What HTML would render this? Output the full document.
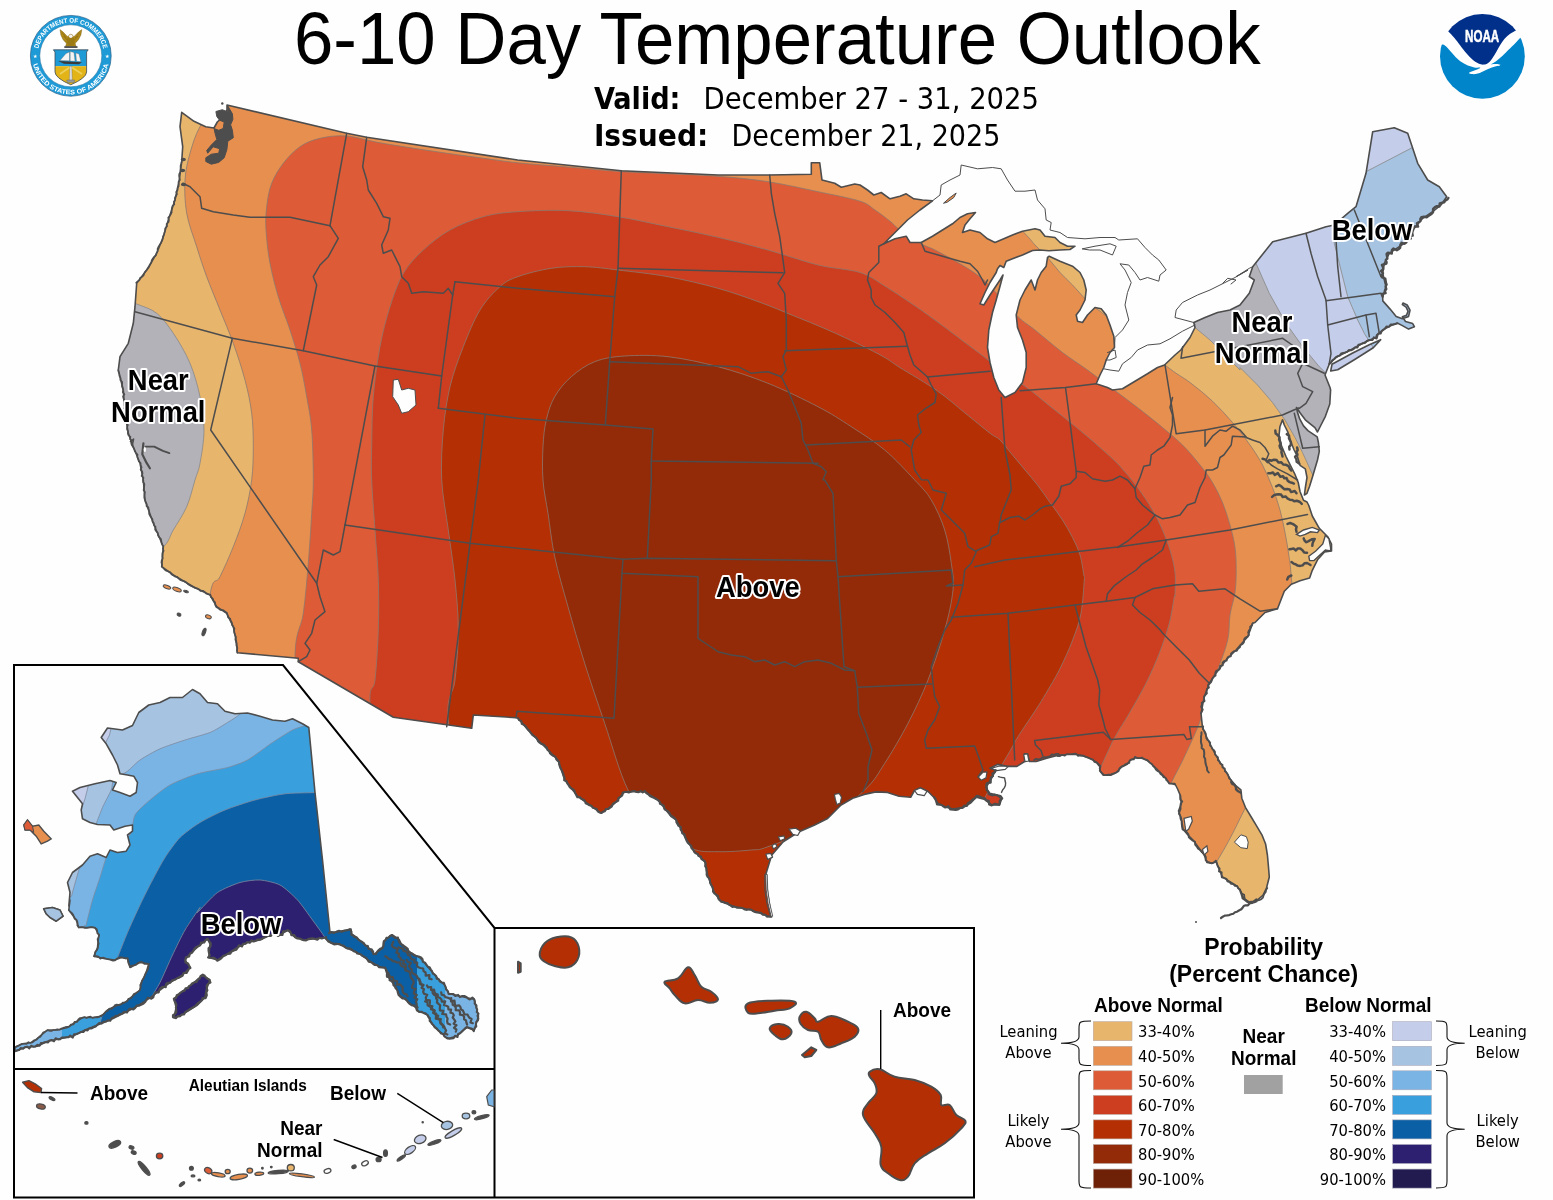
<!DOCTYPE html>
<html><head><meta charset="utf-8"><title>6-10 Day Temperature Outlook</title>
<style>html,body{margin:0;padding:0;background:#fdfefd}svg{display:block}text{font-family:"Liberation Sans",sans-serif}.dv{font-family:"DejaVu Sans Condensed","DejaVu Sans",sans-serif}</style>
</head><body>
<svg width="1553" height="1200" viewBox="0 0 1553 1200">
<rect width="1553" height="1200" fill="#fdfefd"/>
<defs>
<clipPath id="us"><path d="M181.7,112.3 L194.0,121.3 L205.7,126.7 L214.0,128.0 L217.3,122.0 L222.3,117.3 L227.0,110.0 L227.0,105.0 L346.7,133.3 L366.7,137.3 L517.7,160.0 L621.3,170.7 L718.0,175.0 L769.7,175.0 L811.3,174.3 L811.3,162.7 L819.7,162.7 L822.0,180.0 L834.7,183.3 L841.3,187.3 L854.7,184.0 L860.0,185.0 L867.5,190.0 L873.8,195.0 L881.2,192.5 L890.0,198.8 L900.0,196.2 L906.2,193.8 L913.8,198.8 L922.5,200.0 L932.5,200.8 L920.0,210.0 L907.5,220.0 L897.5,230.0 L883.8,243.8 L895.0,238.8 L906.2,236.2 L910.0,242.5 L921.2,242.5 L932.5,236.2 L942.5,230.0 L952.5,223.8 L960.0,217.5 L967.5,213.8 L975.5,212.5 L970.0,218.8 L965.0,225.0 L962.5,232.5 L970.0,230.0 L980.0,232.5 L987.5,238.8 L995.0,242.5 L1003.8,238.8 L1012.5,235.0 L1022.5,231.2 L1035.0,228.8 L1040.0,230.0 L1045.0,236.2 L1055.0,237.5 L1060.0,242.5 L1067.5,246.2 L1075.0,246.2 L1070.0,249.5 L1060.0,250.0 L1048.8,250.8 L1040.0,250.0 L1032.5,250.5 L1022.5,255.0 L1012.5,258.8 L1006.2,261.2 L1003.8,267.5 L1000.0,265.5 L997.5,268.8 L996.2,272.5 L990.0,282.5 L985.0,292.5 L980.0,303.8 L983.8,305.0 L990.0,295.0 L995.0,287.5 L1000.0,280.0 L1003.0,275.0 L1000.0,286.2 L996.2,300.0 L992.5,312.5 L988.8,330.0 L987.5,347.5 L990.0,362.5 L993.8,377.5 L998.8,390.0 L1005.0,397.5 L1015.0,392.5 L1022.5,382.5 L1026.2,367.5 L1026.2,352.5 L1022.5,340.0 L1017.5,327.5 L1016.2,315.0 L1020.0,300.0 L1025.0,290.0 L1031.2,280.0 L1035.0,290.0 L1037.5,280.0 L1041.2,272.5 L1046.2,266.2 L1047.5,257.5 L1049.2,256.2 L1060.0,261.2 L1072.5,266.2 L1080.0,272.5 L1083.8,280.0 L1086.2,290.0 L1085.0,300.0 L1080.0,310.0 L1076.2,315.0 L1077.5,321.2 L1082.5,322.5 L1087.5,315.0 L1095.0,307.5 L1101.2,308.8 L1106.2,315.0 L1110.0,325.0 L1113.8,336.2 L1114.5,347.5 L1110.0,352.5 L1106.2,360.0 L1103.8,367.5 L1100.0,375.0 L1096.2,383.8 L1107.5,387.5 L1112.5,390.0 L1122.5,388.8 L1135.0,381.2 L1147.5,373.8 L1157.5,367.5 L1164.5,365.0 L1175.0,355.0 L1180.8,350.0 L1190.0,337.5 L1195.0,327.5 L1193.8,322.5 L1205.0,317.5 L1217.5,312.5 L1230.0,310.0 L1240.0,305.0 L1249.3,293.3 L1254.3,280.0 L1249.3,276.7 L1252.7,266.7 L1272.7,241.7 L1306.0,233.3 L1326.0,226.7 L1334.3,225.0 L1347.7,213.3 L1356.0,206.7 L1366.0,173.3 L1372.7,131.7 L1394.3,127.7 L1407.7,133.3 L1417.7,163.3 L1427.7,180.0 L1439.3,186.7 L1446.7,196.7 L1441.0,205.0 L1432.7,211.7 L1422.7,218.3 L1414.3,228.3 L1409.3,240.0 L1399.3,246.7 L1389.3,253.3 L1384.3,263.3 L1382.7,273.3 L1386.0,286.7 L1382.7,296.7 L1382.8,300.9 L1390.1,309.1 L1396.2,316.4 L1402.4,318.8 L1408.6,316.4 L1410.0,310.2 L1407.2,305.0 L1403.0,303.0 L1402.4,304.6 L1406.1,307.1 L1408.0,311.2 L1406.5,315.3 L1402.4,316.8 L1405.5,321.5 L1412.7,323.6 L1414.4,326.7 L1408.6,329.1 L1402.4,325.6 L1397.3,323.0 L1391.1,325.6 L1384.9,328.7 L1376.7,334.9 L1376.0,337.3 L1362.7,343.3 L1349.3,350.7 L1336.0,357.3 L1329.3,364.0 L1325.0,375.0 L1330.0,387.5 L1330.6,390.0 L1329.8,404.0 L1325.4,416.3 L1321.0,425.0 L1317.5,432.0 L1314.9,427.6 L1309.6,423.3 L1305.3,419.8 L1300.0,412.8 L1296.5,407.5 L1297.4,411.9 L1299.7,418.9 L1303.5,425.9 L1307.9,430.6 L1313.1,434.1 L1317.2,436.9 L1318.4,442.5 L1319.3,451.3 L1317.5,460.0 L1314.9,468.8 L1312.3,477.5 L1309.6,486.3 L1307.0,493.3 L1304.4,495.0 L1305.3,488.0 L1307.0,477.5 L1305.3,468.8 L1300.0,465.3 L1297.4,456.5 L1293.9,449.5 L1290.4,440.8 L1287.8,432.0 L1284.3,425.0 L1282.5,419.8 L1279.9,426.8 L1279.0,435.5 L1281.6,446.0 L1286.0,456.5 L1290.4,465.3 L1294.8,474.0 L1298.3,482.8 L1300.0,491.5 L1303.5,500.3 L1307.0,502.0 L1308.8,505.5 L1312.3,516.0 L1319.3,528.3 L1328.0,537.0 L1331.5,544.0 L1331.5,551.0 L1324.5,551.9 L1317.5,559.8 L1312.3,570.3 L1309.6,578.1 L1300.0,580.8 L1291.3,584.3 L1284.3,591.3 L1277.5,608.8 L1265.0,612.5 L1255.0,622.5 L1252.7,623.3 L1247.7,636.7 L1236.0,650.0 L1226.0,660.0 L1216.0,673.3 L1209.3,683.3 L1204.3,696.7 L1201.0,713.3 L1202.4,726.7 L1206.0,735.8 L1210.6,745.0 L1215.2,754.2 L1220.7,763.3 L1225.3,770.7 L1230.8,779.8 L1235.4,785.3 L1240.9,789.9 L1241.8,798.2 L1245.4,807.3 L1250.9,816.5 L1256.4,825.7 L1261.9,834.8 L1265.6,844.0 L1267.4,855.0 L1268.4,866.0 L1269.3,877.0 L1266.5,888.0 L1262.9,895.4 L1256.4,900.9 L1250.0,902.7 L1243.6,898.1 L1240.9,891.7 L1237.2,886.2 L1229.9,881.6 L1222.5,877.0 L1218.9,868.8 L1216.1,861.4 L1211.5,863.3 L1206.9,862.4 L1204.2,855.0 L1198.7,847.7 L1193.2,840.3 L1187.7,834.8 L1183.1,829.3 L1182.2,823.8 L1181.3,818.3 L1178.5,811.0 L1181.3,803.7 L1180.3,795.4 L1177.6,789.0 L1174.8,783.5 L1169.3,783.5 L1165.7,778.0 L1161.1,773.4 L1156.5,768.8 L1151.9,764.3 L1147.3,760.6 L1141.8,758.2 L1135.4,757.8 L1129.9,760.6 L1127.2,764.3 L1121.7,767.0 L1116.2,772.5 L1110.7,775.3 L1103.3,775.3 L1099.7,770.7 L1100.6,766.1 L1096.9,762.4 L1090.5,758.8 L1083.2,756.0 L1075.8,754.2 L1066.7,754.5 L1057.5,756.0 L1060.0,754.8 L1045.9,758.6 L1036.2,761.5 L1029.5,761.5 L1027.5,753.8 L1024.6,753.8 L1024.6,761.5 L1016.9,766.4 L1007.2,766.4 L997.6,764.4 L989.9,768.3 L995.7,770.2 L991.8,777.9 L986.0,787.6 L989.9,793.4 L997.6,795.3 L1001.5,799.2 L999.5,805.0 L991.8,805.0 L984.1,799.2 L976.3,797.3 L970.5,803.1 L962.8,807.9 L953.2,808.9 L945.4,806.9 L937.7,803.1 L933.8,797.3 L928.1,791.5 L920.3,787.6 L914.5,790.5 L910.7,797.3 L899.1,796.3 L887.5,792.4 L875.9,791.9 L864.3,794.4 L852.7,798.2 L841.1,805.0 L827.6,818.5 L814.1,825.3 L798.6,832.0 L783.2,841.7 L771.6,855.2 L765.8,874.5 L767.7,893.8 L771.6,917.0 L769.7,916.7 L764.7,915.0 L751.3,910.0 L734.7,906.7 L721.3,901.7 L714.7,893.3 L708.0,876.7 L704.7,861.7 L693.0,850.0 L684.7,836.7 L676.3,820.0 L671.3,816.7 L658.0,800.0 L644.7,791.7 L624.7,791.7 L614.7,803.3 L601.3,813.3 L578.0,796.7 L564.7,780.0 L558.0,760.0 L544.7,746.7 L528.0,730.0 L518.0,718.3 L516.0,717.7 L473.3,715.0 L471.7,728.3 L393.3,717.3 L298.3,661.7 L298.3,658.3 L237.3,652.7 L236.7,643.3 L233.3,626.7 L226.7,613.3 L216.7,606.7 L210.0,595.0 L193.3,586.7 L173.3,575.0 L161.7,566.7 L163.3,546.7 L153.3,523.3 L145.0,500.0 L143.3,480.0 L140.0,463.3 L133.3,446.7 L128.3,433.3 L125.0,413.3 L123.3,390.0 L118.3,370.0 L120.0,356.7 L128.3,343.3 L133.3,323.3 L135.0,306.7 L136.7,283.3 L146.7,270.0 L156.7,253.3 L163.3,236.7 L168.3,220.0 L175.0,200.0 L179.3,180.0 L181.7,161.7 L182.7,146.7 L180.0,126.7Z M1332.0,364.3 L1352.7,353.0 L1369.3,344.7 L1380.7,339.7 L1373.3,347.7 L1354.3,359.7 L1337.7,369.7 L1330.7,371.0Z"/></clipPath>
</defs>
<g clip-path="url(#us)">
<rect x="100" y="80" width="1400" height="860" fill="#E8B56D"/>
<path d="M1172.5,307.5 L1195.0,327.5 L1210.0,340.0 L1225.0,355.0 L1240.0,370.0 L1240.0,367.5 L1257.5,385.0 L1272.5,402.5 L1285.0,420.0 L1295.0,437.5 L1302.5,452.5 L1315.0,480.0 L1400.0,700.0 L1553.0,700.0 L1553.0,60.0 L1150.0,60.0Z" fill="#B3B2B9" stroke="#888" stroke-width="0.8"/>
<path d="M1242.7,233.3 L1256.0,263.3 L1269.3,293.3 L1286.0,323.3 L1302.7,346.7 L1319.3,366.7 L1326.0,373.3 L1346.0,400.0 L1553.0,420.0 L1553.0,60.0 L1200.0,60.0Z" fill="#C4CDE9" stroke="#888" stroke-width="0.8"/>
<path d="M1331.0,213.3 L1334.3,243.3 L1339.3,263.3 L1347.7,296.7 L1357.7,320.0 L1364.3,333.3 L1372.7,346.7 L1389.3,373.3 L1553.0,400.0 L1553.0,60.0 L1411.0,148.3 L1366.0,171.7Z" fill="#A6C3E1" stroke="#888" stroke-width="0.8"/>
<path d="M110.0,293.3 C114.5,258.4 128.9,300.7 136.7,304.0 C144.5,307.3 150.6,308.4 156.7,313.3 C162.8,318.2 167.8,325.0 173.3,333.3 C178.9,341.6 185.6,352.7 190.0,363.3 C194.4,373.9 197.7,385.6 200.0,396.7 C202.3,407.8 204.0,418.9 204.0,430.0 C204.0,441.1 201.5,455.0 200.0,463.3 C198.5,471.6 197.2,472.8 195.0,480.0 C192.8,487.2 190.3,498.4 186.7,506.7 C183.1,515.0 177.2,523.3 173.3,530.0 C169.4,536.7 168.9,542.2 163.3,546.7 C157.8,551.2 148.9,562.3 140.0,556.7 C131.1,551.1 115.0,557.2 110.0,513.3 C105.0,469.4 105.5,328.2 110.0,293.3Z" fill="#B3B2B9" stroke="#888" stroke-width="0.8"/>
<path d="M200.0,126.7 C195.0,135.6 192.5,144.4 190.0,153.3 C187.5,162.2 185.6,170.0 185.0,180.0 C184.4,190.0 184.8,202.2 186.7,213.3 C188.6,224.4 193.4,236.1 196.7,246.7 C200.0,257.3 202.8,266.1 206.7,276.7 C210.6,287.2 215.6,298.9 220.0,310.0 C224.4,321.1 229.1,331.6 233.3,343.3 C237.5,355.0 241.9,368.3 245.0,380.0 C248.1,391.7 250.3,402.2 251.7,413.3 C253.1,424.4 253.3,435.6 253.3,446.7 C253.3,457.8 253.1,468.6 251.7,479.7 C250.3,490.8 248.1,502.1 245.0,513.3 C241.9,524.5 237.5,536.1 233.3,546.7 C229.1,557.3 223.9,568.7 220.0,576.7 C216.1,584.8 213.3,574.5 210.0,595.0 C206.7,615.5 185.0,649.2 200.0,700.0 C215.0,750.8 250.0,840.0 300.0,900.0 C350.0,960.0 416.7,1026.7 500.0,1060.0 C583.3,1093.3 708.3,1103.3 800.0,1100.0 C891.7,1096.7 986.7,1070.0 1050.0,1040.0 C1113.3,1010.0 1152.0,950.0 1180.0,920.0 C1208.0,890.0 1208.9,874.5 1217.7,860.0 C1226.5,845.5 1228.3,841.6 1232.7,833.3 C1237.1,825.0 1236.4,825.5 1244.3,810.0 C1252.2,794.5 1271.4,766.7 1280.0,740.0 C1288.6,713.3 1294.1,677.3 1296.0,650.0 C1297.9,622.7 1292.4,592.0 1291.2,576.2 C1290.0,560.4 1289.8,562.3 1288.8,555.0 C1287.8,547.7 1286.5,540.0 1285.0,532.5 C1283.5,525.0 1282.1,517.5 1280.0,510.0 C1277.9,502.5 1275.4,495.0 1272.5,487.5 C1269.6,480.0 1266.2,472.1 1262.5,465.0 C1258.8,457.9 1255.0,452.1 1250.0,445.0 C1245.0,437.9 1238.8,429.8 1232.5,422.5 C1226.2,415.2 1219.6,407.9 1212.5,401.2 C1205.4,394.5 1197.9,388.5 1190.0,382.5 C1182.1,376.5 1179.0,376.1 1165.0,365.0 C1151.0,353.9 1117.9,325.8 1106.2,316.2 C1094.5,306.6 1098.3,310.2 1095.0,307.5 C1091.7,304.8 1090.0,303.8 1086.2,300.0 C1082.5,296.2 1076.9,289.6 1072.5,285.0 C1068.1,280.4 1064.2,277.1 1060.0,272.5 C1055.8,267.9 1051.7,262.1 1047.5,257.5 C1043.3,252.9 1039.0,249.2 1035.0,245.0 C1031.0,240.8 1033.0,241.7 1023.8,232.5 C1014.6,223.3 1000.6,205.4 980.0,190.0 C959.4,174.6 936.7,155.0 900.0,140.0 C863.3,125.0 810.0,110.0 760.0,100.0 C710.0,90.0 656.7,85.0 600.0,80.0 C543.3,75.0 473.3,70.0 420.0,70.0 C366.7,70.0 313.3,75.0 280.0,80.0 C246.7,85.0 233.3,92.2 220.0,100.0 C206.7,107.8 205.0,117.8 200.0,126.7Z" fill="#E78F4F" stroke="#8a7a70" stroke-width="0.8"/>
<path d="M346.7,136.0 C336.7,135.2 327.8,136.5 320.0,138.3 C312.2,140.1 306.1,142.5 300.0,146.7 C293.9,150.9 288.0,157.2 283.3,163.3 C278.6,169.4 274.5,176.1 271.7,183.3 C268.9,190.5 267.6,198.9 266.7,206.7 C265.8,214.5 265.4,220.6 266.0,230.0 C266.6,239.4 267.9,252.2 270.0,263.3 C272.1,274.4 275.0,285.6 278.3,296.7 C281.6,307.8 286.4,318.9 290.0,330.0 C293.6,341.1 297.2,352.2 300.0,363.3 C302.8,374.4 304.8,385.6 306.7,396.7 C308.6,407.8 310.6,416.2 311.7,430.0 C312.8,443.8 313.3,465.8 313.3,479.7 C313.3,493.6 312.5,499.4 311.7,513.3 C310.9,527.2 309.7,546.6 308.3,563.3 C306.9,580.0 305.5,597.7 303.3,613.3 C301.1,628.9 295.6,628.9 295.0,656.7 C294.4,684.5 282.5,732.8 300.0,780.0 C317.5,827.2 350.0,896.7 400.0,940.0 C450.0,983.3 530.0,1021.7 600.0,1040.0 C670.0,1058.3 750.0,1060.0 820.0,1050.0 C890.0,1040.0 970.0,1008.3 1020.0,980.0 C1070.0,951.7 1094.3,913.9 1120.0,880.0 C1145.7,846.1 1163.3,797.8 1174.3,776.7 C1185.3,755.6 1181.8,762.2 1186.0,753.3 C1190.2,744.4 1195.7,732.7 1199.3,723.3 C1202.9,713.9 1204.6,705.6 1207.7,696.7 C1210.8,687.8 1214.4,679.5 1217.7,670.0 C1221.0,660.5 1225.7,649.2 1227.7,640.0 C1229.8,630.8 1228.8,622.9 1230.0,615.0 C1231.2,607.1 1234.0,600.0 1235.0,592.5 C1236.0,585.0 1236.2,577.5 1236.2,570.0 C1236.2,562.5 1236.0,555.0 1235.0,547.5 C1234.0,540.0 1232.1,532.5 1230.0,525.0 C1227.9,517.5 1225.4,509.6 1222.5,502.5 C1219.6,495.4 1216.2,488.8 1212.5,482.5 C1208.8,476.2 1205.0,471.2 1200.0,465.0 C1195.0,458.8 1188.8,451.2 1182.5,445.0 C1176.2,438.8 1170.0,433.8 1162.5,427.5 C1155.0,421.2 1145.8,413.9 1137.5,407.5 C1129.2,401.1 1120.8,395.1 1112.5,388.8 C1104.2,382.6 1095.8,376.1 1087.5,370.0 C1079.2,363.9 1071.2,359.2 1062.5,352.5 C1053.8,345.8 1042.5,336.1 1035.0,330.0 C1027.5,323.9 1025.0,323.5 1017.5,316.2 C1010.0,308.9 996.7,293.1 990.0,286.2 C983.3,279.3 982.5,278.7 977.5,275.0 C972.5,271.3 967.1,268.0 960.0,263.8 C952.9,259.6 941.5,253.3 935.0,250.0 C928.5,246.7 927.0,247.1 921.2,243.8 C915.4,240.5 905.2,233.8 900.0,230.0 C894.8,226.2 894.2,224.5 890.0,221.2 C885.8,217.9 880.0,213.3 875.0,210.0 C870.0,206.7 869.5,204.2 860.0,201.2 C850.5,198.1 833.3,194.9 818.0,191.7 C802.7,188.4 784.7,184.3 768.0,181.7 C751.3,179.1 736.0,177.7 718.0,176.3 C700.0,174.9 676.2,174.2 660.0,173.4 C643.8,172.6 636.0,172.6 621.0,171.6 C606.0,170.6 587.2,168.7 570.0,167.2 C552.8,165.7 532.7,164.4 517.7,162.8 C502.7,161.2 494.1,159.7 480.0,157.8 C465.9,155.9 449.7,153.7 433.0,151.2 C416.3,148.7 394.4,145.3 380.0,142.8 C365.6,140.3 356.7,136.8 346.7,136.0Z" fill="#DD5B36" stroke="#8a7a70" stroke-width="0.8"/>
<path d="M517.7,211.7 C503.6,212.7 494.6,213.6 483.3,216.7 C472.0,219.8 460.0,224.4 450.0,230.0 C440.0,235.6 431.1,242.8 423.3,250.0 C415.5,257.2 408.9,263.9 403.3,273.3 C397.8,282.8 393.9,294.5 390.0,306.7 C386.1,318.9 382.8,331.7 380.0,346.7 C377.2,361.7 374.7,380.0 373.3,396.7 C371.9,413.4 372.0,432.8 371.7,446.7 C371.4,460.6 371.1,466.1 371.7,480.0 C372.2,493.9 373.9,513.3 375.0,530.0 C376.1,546.7 377.8,563.3 378.3,580.0 C378.9,596.7 378.9,613.3 378.3,630.0 C377.8,646.7 376.4,667.8 375.0,680.0 C373.6,692.2 369.2,683.3 370.0,703.3 C370.8,723.3 366.7,767.2 380.0,800.0 C393.3,832.8 413.3,870.0 450.0,900.0 C486.7,930.0 541.7,963.3 600.0,980.0 C658.3,996.7 736.7,1010.0 800.0,1000.0 C863.3,990.0 935.0,948.3 980.0,920.0 C1025.0,891.7 1050.1,855.0 1070.0,830.0 C1089.9,805.0 1091.9,785.3 1099.3,770.0 C1106.7,754.7 1109.3,747.8 1114.3,738.3 C1119.3,728.8 1124.0,722.5 1129.3,713.3 C1134.6,704.1 1141.0,693.3 1146.0,683.3 C1151.0,673.3 1155.4,663.3 1159.3,653.3 C1163.2,643.3 1166.8,632.7 1169.3,623.3 C1171.8,613.9 1173.3,601.4 1174.3,596.7 C1175.2,592.0 1174.9,599.0 1175.0,595.0 C1175.1,591.0 1175.8,580.0 1175.0,572.5 C1174.2,565.0 1172.1,557.1 1170.0,550.0 C1167.9,542.9 1165.4,536.7 1162.5,530.0 C1159.6,523.3 1156.7,517.1 1152.5,510.0 C1148.3,502.9 1142.9,494.8 1137.5,487.5 C1132.1,480.2 1126.2,472.9 1120.0,466.2 C1113.8,459.5 1107.5,454.2 1100.0,447.5 C1092.5,440.8 1083.3,433.1 1075.0,426.2 C1066.7,419.3 1058.3,412.9 1050.0,406.2 C1041.7,399.5 1033.3,392.2 1025.0,386.2 C1016.7,380.2 1006.7,374.8 1000.0,370.0 C993.3,365.2 991.7,362.7 985.0,357.5 C978.3,352.3 968.3,345.1 960.0,338.8 C951.7,332.6 943.3,326.1 935.0,320.0 C926.7,313.9 918.3,308.1 910.0,302.5 C901.7,296.9 893.3,291.2 885.0,286.2 C876.7,281.2 871.2,276.0 860.0,272.5 C848.8,269.0 833.3,268.8 818.0,265.0 C802.7,261.2 784.7,254.6 768.0,250.0 C751.3,245.4 734.7,241.2 718.0,237.3 C701.3,233.4 684.7,230.1 668.0,226.7 C651.3,223.3 634.7,219.4 618.0,216.7 C601.3,214.0 584.7,211.5 568.0,210.7 C551.3,209.9 531.8,210.7 517.7,211.7Z" fill="#CD3D20" stroke="#8a7a70" stroke-width="0.8"/>
<path d="M517.7,276.7 C509.2,279.8 506.3,281.1 500.0,286.7 C493.7,292.2 486.1,300.0 480.0,310.0 C473.9,320.0 468.3,333.9 463.3,346.7 C458.3,359.5 453.3,372.8 450.0,386.7 C446.7,400.6 444.7,414.5 443.3,430.0 C441.9,445.5 440.9,463.0 441.7,479.7 C442.5,496.4 446.1,513.3 448.3,530.0 C450.5,546.7 453.3,563.3 455.0,580.0 C456.7,596.7 458.3,613.3 458.3,630.0 C458.3,646.7 456.7,665.0 455.0,680.0 C453.3,695.0 445.8,695.0 448.3,720.0 C450.8,745.0 451.4,798.3 470.0,830.0 C488.6,861.7 521.7,890.0 560.0,910.0 C598.3,930.0 651.7,946.7 700.0,950.0 C748.3,953.3 808.3,946.7 850.0,930.0 C891.7,913.3 924.2,878.3 950.0,850.0 C975.8,821.7 993.4,778.9 1004.7,760.0 C1016.0,741.1 1012.8,745.0 1018.0,736.7 C1023.2,728.4 1031.0,717.2 1035.7,710.0 C1040.4,702.8 1042.1,700.0 1046.0,693.3 C1049.9,686.6 1054.8,678.9 1059.3,670.0 C1063.8,661.1 1069.1,649.5 1072.7,640.0 C1076.3,630.5 1079.1,623.3 1081.0,613.3 C1082.9,603.3 1083.8,586.4 1084.3,580.0 C1084.8,573.6 1084.5,579.2 1083.8,575.0 C1083.1,570.8 1081.9,561.2 1080.0,555.0 C1078.1,548.8 1075.4,543.3 1072.5,537.5 C1069.6,531.7 1066.2,525.8 1062.5,520.0 C1058.8,514.2 1054.2,508.3 1050.0,502.5 C1045.8,496.7 1041.7,490.4 1037.5,485.0 C1033.3,479.6 1029.2,475.0 1025.0,470.0 C1020.8,465.0 1016.7,460.0 1012.5,455.0 C1008.3,450.0 1003.7,443.6 1000.0,440.0 C996.3,436.4 995.9,437.8 990.1,433.3 C984.3,428.8 973.8,420.1 965.0,413.0 C956.2,405.9 948.1,398.4 937.3,390.8 C926.5,383.2 908.9,373.2 900.0,367.6 C891.1,362.0 890.5,360.8 883.9,357.0 C877.3,353.2 870.0,349.6 860.5,345.0 C851.0,340.4 838.2,334.4 827.0,329.5 C815.8,324.6 804.7,320.2 793.5,315.7 C782.3,311.2 772.6,306.9 760.0,302.3 C747.4,297.7 733.3,292.6 718.0,288.3 C702.7,284.0 684.7,279.8 668.0,276.7 C651.3,273.6 631.9,271.7 618.0,270.0 C604.1,268.3 595.8,267.0 584.7,266.7 C573.6,266.4 562.5,266.6 551.3,268.3 C540.1,270.0 526.2,273.6 517.7,276.7Z" fill="#B52F04" stroke="#8a7a70" stroke-width="0.8"/>
<path d="M543.0,446.7 C543.5,436.7 544.3,428.3 546.3,420.0 C548.2,411.7 550.5,403.9 554.7,396.7 C558.9,389.5 564.6,382.5 571.3,376.7 C578.0,370.9 585.8,365.1 594.7,361.7 C603.6,358.2 612.5,356.8 624.7,356.0 C636.9,355.2 652.5,354.9 668.0,356.7 C683.5,358.5 701.3,362.3 718.0,366.7 C734.7,371.1 751.3,376.6 768.0,383.3 C784.7,390.0 804.1,399.5 818.0,406.7 C831.9,413.9 840.2,419.5 851.3,426.7 C862.4,433.9 874.1,441.1 884.7,450.0 C895.3,458.9 906.9,471.7 914.7,480.0 C922.5,488.3 926.3,491.7 931.3,500.0 C936.3,508.3 941.4,519.5 944.7,530.0 C948.0,540.5 949.9,553.3 951.3,563.3 C952.7,573.3 954.1,578.9 953.0,590.0 C951.9,601.1 948.9,615.0 944.7,630.0 C940.5,645.0 934.1,664.5 928.0,680.0 C921.9,695.5 915.2,709.4 908.0,723.3 C900.8,737.2 891.9,752.2 884.7,763.3 C877.5,774.4 875.5,779.7 864.7,790.0 C853.9,800.3 836.1,815.5 820.0,825.0 C803.9,834.5 779.5,842.5 768.0,846.7 C756.5,850.9 759.6,849.2 751.3,850.0 C743.0,850.8 728.0,852.0 718.0,851.7 C708.0,851.4 701.8,852.8 691.3,848.3 C680.8,843.8 665.5,834.7 655.0,825.0 C644.5,815.3 636.4,807.0 628.0,790.0 C619.6,773.0 611.9,744.4 604.7,723.3 C597.5,702.2 590.8,682.7 584.7,663.3 C578.6,643.9 573.0,624.5 568.0,606.7 C563.0,588.9 558.0,572.3 554.7,556.7 C551.4,541.1 550.0,526.1 548.0,513.3 C546.0,500.5 543.8,491.1 543.0,480.0 C542.2,468.9 542.5,456.7 543.0,446.7Z" fill="#932A08" stroke="#8a7a70" stroke-width="0.8"/>
</g>
<g fill="none" stroke="#4d4d4d" stroke-width="1.5" stroke-linejoin="round" stroke-linecap="round">
<path d="M182.7,183.3 L190.0,186.7 L200.0,196.7 L201.7,208.3 L213.3,211.7 L233.3,215.0 L250.0,217.3 L266.7,217.3 L290.0,217.3 L330.0,225.7"/>
<path d="M330.0,225.7 L338.3,238.3 L328.3,256.7 L320.0,265.0 L313.3,276.7 L316.7,285.0 L303.3,350.7"/>
<path d="M346.7,133.3 L330.0,225.7"/>
<path d="M366.7,137.3 L362.7,166.7 L366.7,180.0 L368.3,190.0 L376.7,203.3 L383.3,216.7 L390.0,218.3 L388.3,230.0 L381.7,245.0 L383.3,253.3 L391.7,250.0 L400.0,266.7 L401.7,276.7 L408.3,283.3 L411.7,293.3 L423.3,291.7 L443.3,293.3 L448.3,288.3 L452.7,295.0"/>
<path d="M455.0,281.7 L452.7,295.0 L441.7,376.0 L438.3,408.3"/>
<path d="M455.0,281.7 L517.7,288.3 L614.7,296.7"/>
<path d="M621.3,170.7 L618.0,268.3 L614.7,296.7 L609.7,361.7 L605.3,425.0"/>
<path d="M438.3,408.3 L517.7,418.3 L605.3,425.0 L653.0,429.0 L651.3,461.0 L818.0,463.3"/>
<path d="M135.0,311.7 L232.3,338.3 L303.3,350.7 L375.0,366.0 L441.7,376.0"/>
<path d="M232.3,338.3 L210.7,430.0 L316.7,583.3"/>
<path d="M375.0,366.0 L345.0,525.0"/>
<path d="M485.0,415.0 L478.3,480.0 L470.0,543.3 L446.7,726.7"/>
<path d="M345.0,525.0 L470.0,543.3 L517.7,548.3 L623.0,559.3 L647.3,558.3 L836.3,560.7"/>
<path d="M345.0,525.0 L340.0,551.7 L333.3,555.0 L323.3,550.0 L320.0,566.7 L316.7,583.3 L320.0,596.7 L325.0,611.7 L315.0,620.0 L311.7,633.3 L305.0,643.3 L310.0,650.0 L306.7,656.7 L298.3,661.7"/>
<path d="M618.0,268.3 L783.0,272.7"/>
<path d="M609.7,361.7 L738.0,366.7 L751.3,373.3 L768.0,371.7 L781.3,376.7"/>
<path d="M651.3,461.0 L651.3,480.0 L647.3,558.3"/>
<path d="M769.7,175.0 L771.3,193.3 L774.7,213.3 L779.7,236.7 L783.0,260.0 L784.7,272.7 L778.0,283.3 L784.7,293.3 L786.3,320.0 L786.3,350.0 L783.0,356.7 L786.3,370.0 L781.3,376.7 L788.0,390.0 L794.7,406.7 L801.3,423.3 L803.0,440.0 L808.0,450.0 L813.0,463.3 L821.3,466.7 L826.3,471.7 L823.0,479.7 L824.7,480.0 L833.0,493.3 L836.3,560.7 L838.0,576.7 L844.0,666.7 L854.7,670.7 L857.3,687.3 L858.7,713.3 L866.3,733.3 L872.0,750.0 L868.0,766.7 L868.0,780.0 L863.0,791.7"/>
<path d="M784.7,350.7 L907.5,346.2"/>
<path d="M806.3,445.0 L901.3,440.0 L909.7,446.7"/>
<path d="M883.8,243.8 L878.8,246.2 L878.8,262.5 L868.8,272.5 L867.5,280.0 L871.2,290.0 L871.2,297.5 L875.0,305.0 L885.0,312.5 L895.0,322.5 L903.8,332.5 L907.5,346.2 L910.0,355.0 L913.8,365.0 L922.5,372.5 L927.5,377.0 L931.2,385.0 L936.2,393.8 L935.0,402.5 L925.0,408.8 L917.5,415.0 L918.8,425.0 L921.2,432.5 L913.8,440.0 L911.2,449.8 L914.7,470.0 L921.3,479.7 L928.0,480.0 L933.0,490.0 L946.3,493.3 L941.3,510.0 L954.7,523.3 L964.7,533.3 L968.0,546.7 L976.3,551.7 L971.3,563.3 L964.7,570.0 L963.0,585.0 L958.0,603.3 L951.3,620.0 L944.7,630.0 L938.0,646.7 L931.3,666.7 L933.0,683.3 L934.7,696.7 L939.7,706.7 L934.7,720.0 L928.0,730.0 L924.7,740.0 L926.3,748.3 L974.7,746.0 L979.7,760.0 L983.0,770.0 L978.0,776.7"/>
<path d="M927.5,377.0 L990.0,371.2"/>
<path d="M921.2,242.5 L925.0,251.2 L942.5,256.2 L960.0,261.2 L970.0,263.8 L977.5,271.2 L982.5,280.0 L985.0,285.0 L987.5,280.0"/>
<path d="M1001.2,397.5 L1005.0,450.0 L1010.0,475.0 L1011.2,490.0 L1006.2,502.5 L1001.2,515.0 L1000.0,522.5"/>
<path d="M976.3,550.7 L989.7,545.0 L991.3,536.7 L998.0,533.3 L999.7,521.7 L1000.0,522.5 L1010.0,517.5 L1018.8,516.2 L1025.0,520.0 L1032.5,515.0 L1040.0,508.8 L1045.0,506.2 L1052.5,505.0 L1058.8,496.2 L1061.2,486.2 L1070.0,483.8 L1076.2,477.5 L1076.2,471.2 L1085.0,472.5 L1092.5,478.8 L1105.0,481.2 L1112.5,480.0 L1120.0,476.2 L1127.5,480.0 L1135.0,488.8 L1136.2,497.5 L1142.5,505.0 L1150.0,511.2 L1155.0,515.0 L1147.5,525.0 L1137.5,532.5 L1127.5,541.2 L1117.5,547.5"/>
<path d="M974.7,566.7 L1004.7,560.0 L1050.0,555.0 L1080.0,551.2 L1117.5,547.0 L1166.2,540.0 L1230.0,530.0 L1307.5,514.5"/>
<path d="M1135.0,488.8 L1140.0,477.5 L1143.8,466.2 L1150.0,465.0 L1151.2,455.0 L1157.5,450.0 L1163.8,446.2 L1170.0,437.5 L1172.5,425.0 L1172.5,415.0 L1170.0,407.5 L1172.5,397.5"/>
<path d="M1165.0,365.0 L1176.2,433.8 L1205.0,430.0 L1282.5,415.0 L1293.8,410.0 L1298.8,408.0"/>
<path d="M1020.0,390.8 L1065.5,387.5 L1096.2,383.8"/>
<path d="M1065.5,387.5 L1068.8,412.5 L1072.5,442.5 L1076.2,471.2"/>
<path d="M1205.0,430.0 L1205.0,446.2 L1212.5,436.2 L1220.0,430.0 L1226.2,431.2 L1232.5,426.2 L1240.0,430.0 L1246.2,437.0 L1232.5,436.2 L1231.2,445.0 L1223.8,455.0 L1220.0,457.5 L1217.5,467.5 L1212.5,470.0 L1206.2,470.0 L1205.0,477.5 L1200.0,487.5 L1195.0,502.5 L1187.5,505.0 L1180.0,515.0 L1170.0,517.5 L1162.5,518.8 L1155.0,515.0"/>
<path d="M1246.2,437.5 L1252.5,440.0 L1260.0,442.5 L1265.0,447.5 L1268.8,453.8 L1266.2,460.0 L1271.2,465.0 L1277.5,468.8 L1287.5,473.8 L1297.5,480.0"/>
<path d="M1166.2,540.0 L1162.5,550.0 L1152.5,557.5 L1142.5,563.8 L1136.2,570.0 L1125.0,577.5 L1113.8,586.2 L1107.5,593.8 L1106.2,601.2"/>
<path d="M951.3,617.3 L1008.0,613.3 L1075.0,605.0 L1106.2,601.2 L1135.0,597.5 L1152.5,588.8 L1175.0,585.0 L1192.5,583.8 L1198.8,591.2 L1225.0,588.8 L1240.0,598.8 L1260.0,611.2 L1277.5,608.8"/>
<path d="M1135.0,597.5 L1132.5,605.0 L1140.0,612.5 L1150.0,620.0 L1160.0,629.8 L1162.7,633.3 L1176.0,646.7 L1189.3,660.0 L1199.3,673.3 L1209.3,683.3"/>
<path d="M1075.0,605.0 L1086.0,646.7 L1097.7,680.0 L1099.7,690.0 L1098.8,704.7 L1102.4,717.5 L1105.2,728.5 L1110.7,739.5 L1184.0,734.6 L1186.8,739.5 L1191.3,738.6 L1189.5,726.7 L1202.4,726.7"/>
<path d="M1042.8,756.0 L1041.0,750.5 L1035.5,745.0 L1034.6,740.4 L1103.3,732.2 L1110.7,739.5"/>
<path d="M1008.0,613.3 L1014.7,760.0"/>
<path d="M857.3,687.3 L931.3,684.0"/>
<path d="M838.0,576.7 L951.3,570.0 L953.0,583.3 L946.3,586.0 L963.0,585.0"/>
<path d="M623.0,559.3 L622.0,573.3 L698.0,576.7 L698.0,638.3 L708.0,645.0 L718.0,651.7 L731.3,655.0 L744.7,656.7 L754.7,661.7 L764.7,660.0 L774.7,665.0 L784.7,661.7 L794.7,666.7 L804.7,661.7 L818.0,660.0 L831.3,663.3 L844.7,670.0 L854.7,670.7"/>
<path d="M622.0,573.3 L614.0,718.3 L517.0,711.3 L516.0,717.7"/>
<path d="M1306.0,233.3 L1311.0,253.3 L1317.7,276.7 L1326.0,300.0 L1327.7,325.0 L1331.0,353.3 L1329.3,363.3"/>
<path d="M1336.0,225.0 L1336.0,240.0 L1337.7,266.7 L1341.0,296.7"/>
<path d="M1354.3,210.0 L1381.0,276.7"/>
<path d="M1326.0,300.7 L1381.0,293.3"/>
<path d="M1327.7,325.0 L1366.0,315.0 L1376.0,313.3 L1379.3,333.3"/>
<path d="M1366.0,315.0 L1369.3,336.7"/>
<path d="M1182.7,346.7 L1181.0,358.3 L1282.7,338.3 L1299.3,350.0 L1302.7,363.3 L1297.7,373.3 L1302.7,386.7 L1312.7,391.7 L1306.0,403.3 L1299.3,408.3"/>
<path d="M1302.7,363.3 L1324.3,373.3"/>
<path d="M1294.3,413.3 L1302.7,448.3 L1319.3,446.7"/>
</g>
<path d="M181.7,112.3 L194.0,121.3 L205.7,126.7 L214.0,128.0 L217.3,122.0 L222.3,117.3 L227.0,110.0 L227.0,105.0 L346.7,133.3 L366.7,137.3 L517.7,160.0 L621.3,170.7 L718.0,175.0 L769.7,175.0 L811.3,174.3 L811.3,162.7 L819.7,162.7 L822.0,180.0 L834.7,183.3 L841.3,187.3 L854.7,184.0 L860.0,185.0 L867.5,190.0 L873.8,195.0 L881.2,192.5 L890.0,198.8 L900.0,196.2 L906.2,193.8 L913.8,198.8 L922.5,200.0 L932.5,200.8 L920.0,210.0 L907.5,220.0 L897.5,230.0 L883.8,243.8 L895.0,238.8 L906.2,236.2 L910.0,242.5 L921.2,242.5 L932.5,236.2 L942.5,230.0 L952.5,223.8 L960.0,217.5 L967.5,213.8 L975.5,212.5 L970.0,218.8 L965.0,225.0 L962.5,232.5 L970.0,230.0 L980.0,232.5 L987.5,238.8 L995.0,242.5 L1003.8,238.8 L1012.5,235.0 L1022.5,231.2 L1035.0,228.8 L1040.0,230.0 L1045.0,236.2 L1055.0,237.5 L1060.0,242.5 L1067.5,246.2 L1075.0,246.2 L1070.0,249.5 L1060.0,250.0 L1048.8,250.8 L1040.0,250.0 L1032.5,250.5 L1022.5,255.0 L1012.5,258.8 L1006.2,261.2 L1003.8,267.5 L1000.0,265.5 L997.5,268.8 L996.2,272.5 L990.0,282.5 L985.0,292.5 L980.0,303.8 L983.8,305.0 L990.0,295.0 L995.0,287.5 L1000.0,280.0 L1003.0,275.0 L1000.0,286.2 L996.2,300.0 L992.5,312.5 L988.8,330.0 L987.5,347.5 L990.0,362.5 L993.8,377.5 L998.8,390.0 L1005.0,397.5 L1015.0,392.5 L1022.5,382.5 L1026.2,367.5 L1026.2,352.5 L1022.5,340.0 L1017.5,327.5 L1016.2,315.0 L1020.0,300.0 L1025.0,290.0 L1031.2,280.0 L1035.0,290.0 L1037.5,280.0 L1041.2,272.5 L1046.2,266.2 L1047.5,257.5 L1049.2,256.2 L1060.0,261.2 L1072.5,266.2 L1080.0,272.5 L1083.8,280.0 L1086.2,290.0 L1085.0,300.0 L1080.0,310.0 L1076.2,315.0 L1077.5,321.2 L1082.5,322.5 L1087.5,315.0 L1095.0,307.5 L1101.2,308.8 L1106.2,315.0 L1110.0,325.0 L1113.8,336.2 L1114.5,347.5 L1110.0,352.5 L1106.2,360.0 L1103.8,367.5 L1100.0,375.0 L1096.2,383.8 L1107.5,387.5 L1112.5,390.0 L1122.5,388.8 L1135.0,381.2 L1147.5,373.8 L1157.5,367.5 L1164.5,365.0 L1175.0,355.0 L1180.8,350.0 L1190.0,337.5 L1195.0,327.5 L1193.8,322.5 L1205.0,317.5 L1217.5,312.5 L1230.0,310.0 L1240.0,305.0 L1249.3,293.3 L1254.3,280.0 L1249.3,276.7 L1252.7,266.7 L1272.7,241.7 L1306.0,233.3 L1326.0,226.7 L1334.3,225.0 L1347.7,213.3 L1356.0,206.7 L1366.0,173.3 L1372.7,131.7 L1394.3,127.7 L1407.7,133.3 L1417.7,163.3 L1427.7,180.0 L1439.3,186.7 L1446.7,196.7 L1441.0,205.0 L1432.7,211.7 L1422.7,218.3 L1414.3,228.3 L1409.3,240.0 L1399.3,246.7 L1389.3,253.3 L1384.3,263.3 L1382.7,273.3 L1386.0,286.7 L1382.7,296.7 L1382.8,300.9 L1390.1,309.1 L1396.2,316.4 L1402.4,318.8 L1408.6,316.4 L1410.0,310.2 L1407.2,305.0 L1403.0,303.0 L1402.4,304.6 L1406.1,307.1 L1408.0,311.2 L1406.5,315.3 L1402.4,316.8 L1405.5,321.5 L1412.7,323.6 L1414.4,326.7 L1408.6,329.1 L1402.4,325.6 L1397.3,323.0 L1391.1,325.6 L1384.9,328.7 L1376.7,334.9 L1376.0,337.3 L1362.7,343.3 L1349.3,350.7 L1336.0,357.3 L1329.3,364.0 L1325.0,375.0 L1330.0,387.5 L1330.6,390.0 L1329.8,404.0 L1325.4,416.3 L1321.0,425.0 L1317.5,432.0 L1314.9,427.6 L1309.6,423.3 L1305.3,419.8 L1300.0,412.8 L1296.5,407.5 L1297.4,411.9 L1299.7,418.9 L1303.5,425.9 L1307.9,430.6 L1313.1,434.1 L1317.2,436.9 L1318.4,442.5 L1319.3,451.3 L1317.5,460.0 L1314.9,468.8 L1312.3,477.5 L1309.6,486.3 L1307.0,493.3 L1304.4,495.0 L1305.3,488.0 L1307.0,477.5 L1305.3,468.8 L1300.0,465.3 L1297.4,456.5 L1293.9,449.5 L1290.4,440.8 L1287.8,432.0 L1284.3,425.0 L1282.5,419.8 L1279.9,426.8 L1279.0,435.5 L1281.6,446.0 L1286.0,456.5 L1290.4,465.3 L1294.8,474.0 L1298.3,482.8 L1300.0,491.5 L1303.5,500.3 L1307.0,502.0 L1308.8,505.5 L1312.3,516.0 L1319.3,528.3 L1328.0,537.0 L1331.5,544.0 L1331.5,551.0 L1324.5,551.9 L1317.5,559.8 L1312.3,570.3 L1309.6,578.1 L1300.0,580.8 L1291.3,584.3 L1284.3,591.3 L1277.5,608.8 L1265.0,612.5 L1255.0,622.5 L1252.7,623.3 L1247.7,636.7 L1236.0,650.0 L1226.0,660.0 L1216.0,673.3 L1209.3,683.3 L1204.3,696.7 L1201.0,713.3 L1202.4,726.7 L1206.0,735.8 L1210.6,745.0 L1215.2,754.2 L1220.7,763.3 L1225.3,770.7 L1230.8,779.8 L1235.4,785.3 L1240.9,789.9 L1241.8,798.2 L1245.4,807.3 L1250.9,816.5 L1256.4,825.7 L1261.9,834.8 L1265.6,844.0 L1267.4,855.0 L1268.4,866.0 L1269.3,877.0 L1266.5,888.0 L1262.9,895.4 L1256.4,900.9 L1250.0,902.7 L1243.6,898.1 L1240.9,891.7 L1237.2,886.2 L1229.9,881.6 L1222.5,877.0 L1218.9,868.8 L1216.1,861.4 L1211.5,863.3 L1206.9,862.4 L1204.2,855.0 L1198.7,847.7 L1193.2,840.3 L1187.7,834.8 L1183.1,829.3 L1182.2,823.8 L1181.3,818.3 L1178.5,811.0 L1181.3,803.7 L1180.3,795.4 L1177.6,789.0 L1174.8,783.5 L1169.3,783.5 L1165.7,778.0 L1161.1,773.4 L1156.5,768.8 L1151.9,764.3 L1147.3,760.6 L1141.8,758.2 L1135.4,757.8 L1129.9,760.6 L1127.2,764.3 L1121.7,767.0 L1116.2,772.5 L1110.7,775.3 L1103.3,775.3 L1099.7,770.7 L1100.6,766.1 L1096.9,762.4 L1090.5,758.8 L1083.2,756.0 L1075.8,754.2 L1066.7,754.5 L1057.5,756.0 L1060.0,754.8 L1045.9,758.6 L1036.2,761.5 L1029.5,761.5 L1027.5,753.8 L1024.6,753.8 L1024.6,761.5 L1016.9,766.4 L1007.2,766.4 L997.6,764.4 L989.9,768.3 L995.7,770.2 L991.8,777.9 L986.0,787.6 L989.9,793.4 L997.6,795.3 L1001.5,799.2 L999.5,805.0 L991.8,805.0 L984.1,799.2 L976.3,797.3 L970.5,803.1 L962.8,807.9 L953.2,808.9 L945.4,806.9 L937.7,803.1 L933.8,797.3 L928.1,791.5 L920.3,787.6 L914.5,790.5 L910.7,797.3 L899.1,796.3 L887.5,792.4 L875.9,791.9 L864.3,794.4 L852.7,798.2 L841.1,805.0 L827.6,818.5 L814.1,825.3 L798.6,832.0 L783.2,841.7 L771.6,855.2 L765.8,874.5 L767.7,893.8 L771.6,917.0 L769.7,916.7 L764.7,915.0 L751.3,910.0 L734.7,906.7 L721.3,901.7 L714.7,893.3 L708.0,876.7 L704.7,861.7 L693.0,850.0 L684.7,836.7 L676.3,820.0 L671.3,816.7 L658.0,800.0 L644.7,791.7 L624.7,791.7 L614.7,803.3 L601.3,813.3 L578.0,796.7 L564.7,780.0 L558.0,760.0 L544.7,746.7 L528.0,730.0 L518.0,718.3 L516.0,717.7 L473.3,715.0 L471.7,728.3 L393.3,717.3 L298.3,661.7 L298.3,658.3 L237.3,652.7 L236.7,643.3 L233.3,626.7 L226.7,613.3 L216.7,606.7 L210.0,595.0 L193.3,586.7 L173.3,575.0 L161.7,566.7 L163.3,546.7 L153.3,523.3 L145.0,500.0 L143.3,480.0 L140.0,463.3 L133.3,446.7 L128.3,433.3 L125.0,413.3 L123.3,390.0 L118.3,370.0 L120.0,356.7 L128.3,343.3 L133.3,323.3 L135.0,306.7 L136.7,283.3 L146.7,270.0 L156.7,253.3 L163.3,236.7 L168.3,220.0 L175.0,200.0 L179.3,180.0 L181.7,161.7 L182.7,146.7 L180.0,126.7Z M1332.0,364.3 L1352.7,353.0 L1369.3,344.7 L1380.7,339.7 L1373.3,347.7 L1354.3,359.7 L1337.7,369.7 L1330.7,371.0Z" fill="none" stroke="#4d4d4d" stroke-width="1.6" stroke-linejoin="round"/>
<path d="M932.5,200.8 L940.0,195.0 L941.2,185.0 L950.0,180.0 L960.0,175.0 L961.2,165.0 L977.5,168.8 L992.5,167.5 L1001.2,168.8 L1007.5,180.0 L1015.0,191.2 L1025.0,191.2 L1035.0,190.0 L1037.5,200.0 L1045.0,208.8 L1046.2,220.0 L1051.2,222.5 L1050.0,230.0 L1060.0,232.5 L1067.5,237.5 L1085.0,238.8 L1100.0,237.5 L1115.0,237.5 L1118.8,240.0 L1137.5,238.8 L1145.0,247.5 L1152.5,255.0 L1158.8,260.0 L1166.2,270.0 L1160.0,275.0 L1158.8,281.2 L1147.5,277.5 L1140.0,280.0 L1135.0,272.5 L1128.8,265.0 L1120.0,263.8 L1125.0,270.0 L1131.2,282.5 L1127.5,292.5 L1125.0,305.0 L1128.8,320.0 L1122.5,330.0 L1115.0,337.5 L1114.5,347.5" fill="none" stroke="#4d4d4d" stroke-width="1.0" stroke-linejoin="round" stroke-linecap="round"/>
<path d="M1082.5,248.8 L1095.0,246.2 L1110.0,243.8 L1116.2,246.2 L1112.5,255.0 L1100.0,250.0 L1090.0,250.0Z" fill="none" stroke="#4d4d4d" stroke-width="1.0" stroke-linejoin="round" stroke-linecap="round"/>
<path d="M943.8,203.0 L950.0,197.5 L956.2,193.0 L953.8,197.5 L947.5,202.0Z" fill="#E78F4F" stroke="#4d4d4d" stroke-width="1.0" stroke-linejoin="round" stroke-linecap="round"/>
<path d="M1107.5,352.5 L1115.0,350.0 L1116.2,357.5 L1110.0,360.0 L1106.2,360.0" fill="none" stroke="#4d4d4d" stroke-width="1.0" stroke-linejoin="round" stroke-linecap="round"/>
<path d="M1103.8,368.8 L1110.0,370.0 L1118.8,371.2 L1122.5,363.8 L1131.2,357.5 L1137.5,350.0 L1147.5,345.0 L1160.0,343.8 L1170.0,338.8 L1182.5,331.2 L1195.0,325.0" fill="none" stroke="#4d4d4d" stroke-width="1.0" stroke-linejoin="round" stroke-linecap="round"/>
<path d="M1193.8,322.5 L1175.0,317.5 L1176.2,310.0 L1182.5,302.5 L1197.5,295.0 L1210.0,290.0 L1220.0,285.0 L1235.0,277.5 L1248.0,270.0 L1236.0,276.7 L1249.3,268.3 L1252.7,266.7" fill="none" stroke="#4d4d4d" stroke-width="1.0" stroke-linejoin="round" stroke-linecap="round"/>
<path d="M1222.7,283.3 L1227.7,278.3 L1236.0,280.0 L1231.0,284.0" fill="none" stroke="#4d4d4d" stroke-width="1.0" stroke-linejoin="round" stroke-linecap="round"/>
<path d="M215.9,111.5 L222.3,109.7 L227.8,112.0 L227.8,106.0 L232.4,113.8 L232.9,119.3 L230.6,124.8 L232.4,130.3 L233.3,137.7 L227.8,141.3 L226.9,149.6 L224.2,157.8 L218.7,162.4 L211.3,164.2 L205.8,161.5 L205.8,157.8 L211.3,154.2 L218.7,153.2 L219.6,148.7 L213.2,146.8 L207.7,153.2 L206.7,150.5 L211.3,145.0 L216.8,139.5 L215.0,133.1 L214.1,128.5 L218.7,130.3 L223.2,128.5 L224.2,122.1 L219.6,120.2 L216.8,116.6Z" fill="#4d4d4d" stroke="#4d4d4d" stroke-width="1" stroke-linejoin="round"/>
<circle cx="222.3" cy="103.5" r="1.2" fill="#4d4d4d"/>
<ellipse cx="183.3" cy="159.5" rx="2.6" ry="1.8" fill="#4d4d4d"/>
<ellipse cx="182.6" cy="170.5" rx="2.6" ry="1.8" fill="#4d4d4d"/>
<ellipse cx="183.5" cy="184.5" rx="2.6" ry="1.8" fill="#4d4d4d"/>
<path d="M143.4,443.4 L142.3,454.2 L146.6,462.9 L149.9,468.3" fill="none" stroke="#4d4d4d" stroke-width="2.2" stroke-linejoin="round" stroke-linecap="round"/>
<path d="M145.5,446.6 L154.2,446.6 L162.9,450.9 L169.4,453.1" fill="none" stroke="#4d4d4d" stroke-width="1.8" stroke-linejoin="round" stroke-linecap="round"/>
<path d="M130.4,441.6 L133.6,439.0 L132.5,444.4" fill="none" stroke="#4d4d4d" stroke-width="1.5" stroke-linejoin="round" stroke-linecap="round"/>
<ellipse cx="144.8" cy="449.5" rx="1.2" ry="2.6" fill="#fdfefd"/>
<ellipse cx="167" cy="587" rx="4" ry="1.6" fill="#E78F4F" stroke="#4d4d4d" stroke-width="1" transform="rotate(20 167 587)"/>
<ellipse cx="177" cy="589.5" rx="4.5" ry="1.8" fill="#E78F4F" stroke="#4d4d4d" stroke-width="1" transform="rotate(20 177 589.5)"/>
<ellipse cx="186" cy="591.5" rx="2.5" ry="1" fill="#4d4d4d" stroke="#4d4d4d" stroke-width="1" transform="rotate(20 186 591.5)"/>
<ellipse cx="179" cy="614.6" rx="2" ry="1.4" fill="#4d4d4d" stroke="#4d4d4d" stroke-width="1" transform="rotate(20 179 614.6)"/>
<ellipse cx="208.4" cy="616.8" rx="3" ry="1.8" fill="#E78F4F" stroke="#4d4d4d" stroke-width="1" transform="rotate(20 208.4 616.8)"/>
<ellipse cx="204" cy="632" rx="1.6" ry="4" fill="#4d4d4d" stroke="#4d4d4d" stroke-width="1" transform="rotate(20 204 632)"/>
<path d="M1262.6,458.7 L1265.4,459.6 L1267.7,462.2 L1269.3,460.0 L1271.7,460.7 L1273.9,459.7 L1276.6,460.1 L1278.4,462.4 L1281.3,462.3 L1283.2,464.5 L1286.0,464.8 L1288.6,466.2 L1289.7,468.6 L1291.3,470.5" fill="none" stroke="#4d4d4d" stroke-width="2.5" stroke-linejoin="round" stroke-linecap="round"/>
<path d="M1276.1,486.3 L1278.7,485.0 L1280.7,485.8 L1282.4,487.5 L1284.4,489.2 L1287.1,489.1 L1289.6,489.5 L1291.2,492.1 L1294.7,491.0 L1296.5,493.3" fill="none" stroke="#4d4d4d" stroke-width="2.5" stroke-linejoin="round" stroke-linecap="round"/>
<path d="M1272.1,496.9 L1274.1,495.1 L1276.3,494.5 L1278.5,494.2 L1281.0,494.5 L1282.7,497.0 L1285.8,496.5 L1287.7,498.7 L1289.8,499.7 L1292.3,499.9 L1294.3,501.3 L1296.9,500.8 L1299.5,501.7 L1301.8,503.8" fill="none" stroke="#4d4d4d" stroke-width="2.5" stroke-linejoin="round" stroke-linecap="round"/>
<path d="M1275.3,430.6 L1275.7,433.5 L1277.7,435.1 L1279.5,437.2 L1279.1,439.4 L1279.8,441.4 L1280.6,443.5 L1279.6,445.8 L1280.2,447.9 L1281.9,449.8 L1281.4,452.2 L1282.0,454.3 L1282.5,456.5" fill="none" stroke="#4d4d4d" stroke-width="2.5" stroke-linejoin="round" stroke-linecap="round"/>
<path d="M1268.3,473.3 L1270.6,473.3 L1273.0,472.5 L1274.8,474.9 L1277.8,473.1 L1279.1,474.9 L1280.4,476.7 L1283.0,476.3 L1284.3,478.2 L1286.6,478.1 L1287.7,480.8 L1289.6,482.1 L1291.8,482.7 L1293.9,483.6" fill="none" stroke="#4d4d4d" stroke-width="2.5" stroke-linejoin="round" stroke-linecap="round"/>
<path d="M1286.8,434.1 L1289.1,435.7 L1289.0,438.3 L1290.1,440.4 L1291.0,442.4 L1290.8,444.9 L1289.2,446.9 L1289.5,449.5" fill="none" stroke="#4d4d4d" stroke-width="2.5" stroke-linejoin="round" stroke-linecap="round"/>
<path d="M1297.1,447.4 L1297.7,450.0 L1296.5,452.0 L1297.5,454.7 L1295.1,456.8 L1296.4,459.0 L1296.7,461.8 L1299.1,463.5" fill="none" stroke="#4d4d4d" stroke-width="2.5" stroke-linejoin="round" stroke-linecap="round"/>
<path d="M1296.5,534.4 L1303.5,530.0 L1312.3,527.4 L1319.3,530.0 L1317.5,532.6 L1310.5,531.8 L1305.3,534.4 L1300.0,536.1Z" fill="#fdfefd" stroke="#4d4d4d" stroke-width="1.4"/>
<path d="M1308.8,556.3 L1315.8,551.0 L1322.8,544.0 L1325.4,535.3 L1328.9,538.8 L1330.6,547.5 L1330.6,551.0 L1325.4,550.1 L1319.3,555.4 L1314.0,560.6 L1309.6,560.6Z" fill="#fdfefd" stroke="#4d4d4d" stroke-width="1.4"/>
<path d="M1287.5,523.9 L1290.2,523.0 L1292.5,523.9 L1294.3,524.9 L1296.6,526.8 L1296.0,529.4 L1296.5,531.8" fill="none" stroke="#4d4d4d" stroke-width="2.5" stroke-linejoin="round" stroke-linecap="round"/>
<path d="M1289.4,549.2 L1291.5,548.9 L1293.6,548.6 L1295.9,550.4 L1297.8,548.4 L1300.3,548.6 L1302.5,550.2 L1304.2,552.5 L1307.0,552.8" fill="none" stroke="#4d4d4d" stroke-width="2.5" stroke-linejoin="round" stroke-linecap="round"/>
<path d="M1291.5,562.1 L1293.5,563.6 L1295.6,564.3 L1297.6,565.6 L1300.2,565.9 L1302.6,565.4 L1304.5,563.2 L1307.1,563.0 L1310.5,565.0" fill="none" stroke="#4d4d4d" stroke-width="2.5" stroke-linejoin="round" stroke-linecap="round"/>
<path d="M1303.7,538.4 L1304.7,540.8 L1306.3,542.2 L1308.2,541.4 L1310.0,540.3 L1311.8,539.3 L1314.7,538.9 L1313.5,541.1 L1312.6,543.4 L1312.3,545.8" fill="none" stroke="#4d4d4d" stroke-width="2.5" stroke-linejoin="round" stroke-linecap="round"/>
<path d="M1287.2,579.5 L1288.4,576.8 L1291.3,575.5" fill="none" stroke="#4d4d4d" stroke-width="2.5" stroke-linejoin="round" stroke-linecap="round"/>
<path d="M834.4,794.4 L839.2,793.4 L841.5,797.3 L840.2,803.1 L836.9,804.6 L835.3,799.2Z" fill="#fdfefd" stroke="#4d4d4d" stroke-width="1.2" stroke-linejoin="round"/>
<path d="M789.0,829.1 L795.7,828.2 L800.2,831.1 L797.7,835.5 L792.8,834.4Z" fill="#fdfefd" stroke="#4d4d4d" stroke-width="1.2" stroke-linejoin="round"/>
<path d="M778.4,836.9 L784.1,835.9 L784.7,838.8 L780.3,840.7Z" fill="#fdfefd" stroke="#4d4d4d" stroke-width="1.2" stroke-linejoin="round"/>
<path d="M765.8,854.2 L770.6,853.3 L772.6,857.1 L767.7,859.5Z" fill="#fdfefd" stroke="#4d4d4d" stroke-width="1.2" stroke-linejoin="round"/>
<path d="M772.0,845.6 L775.5,843.6 L777.0,846.5 L773.5,849.0Z" fill="#fdfefd" stroke="#4d4d4d" stroke-width="1.2" stroke-linejoin="round"/>
<path d="M914.5,790.5 L920.3,788.0 L927.1,791.1 L924.2,795.7 L917.4,794.4Z" fill="#fdfefd" stroke="#4d4d4d" stroke-width="1.2" stroke-linejoin="round"/>
<path d="M978.3,777.0 L983.1,772.2 L987.0,771.8 L986.0,777.9 L981.2,780.3Z" fill="#fdfefd" stroke="#4d4d4d" stroke-width="1.2" stroke-linejoin="round"/>
<path d="M990.8,768.3 L999.5,766.0 L1008.2,766.4 L1005.3,769.3 L996.6,770.6Z" fill="#fdfefd" stroke="#4d4d4d" stroke-width="1.2" stroke-linejoin="round"/>
<path d="M1023.7,754.4 L1027.5,753.8 L1028.9,761.0 L1025.0,761.7Z" fill="#fdfefd" stroke="#4d4d4d" stroke-width="1.2" stroke-linejoin="round"/>
<path d="M764.8,874.5 L764.8,890.0 L766.8,903.5 L770.6,917.0" fill="none" stroke="#4d4d4d" stroke-width="1.0" stroke-linejoin="round" stroke-linecap="round"/>
<path d="M765.8,874.5 L767.3,874.5 L767.7,890.0 L769.7,903.5 L772.7,916.1 L771.2,916.6 L768.1,903.5 L766.2,890.0Z" fill="#fdfefd" stroke="#4d4d4d" stroke-width="0.9"/>
<path d="M934.1,797.1 L935.5,799.0 L936.2,801.2 L937.1,804.4 L939.4,804.6 L941.6,805.0 L943.3,806.3 L945.3,807.5 L948.4,806.2 L950.3,809.5 L953.3,809.7 L955.7,809.8 L958.1,809.3 L960.4,807.8 L962.6,807.6 L964.1,805.6 L966.9,805.8 L967.9,803.1 L969.6,802.1 L971.3,801.0 L972.7,799.4 L974.5,798.4 L976.7,795.9 L979.3,796.4 L981.8,797.5 L984.8,798.2 L986.3,800.3 L988.8,800.9 L989.1,804.5 L991.8,805.4 L994.4,803.9 L996.9,804.2 L999.1,804.8 L999.8,802.9 L999.7,800.7 L1002.2,798.4 L1000.6,796.1 L997.6,795.4 L995.0,794.7 L992.1,795.3 L988.8,794.1 L988.2,791.7 L986.7,790.0 L986.9,788.1 L986.2,785.1 L987.0,783.0 L990.7,782.6 L990.7,779.9 L990.8,777.4 L992.9,776.1 L992.4,773.4 L994.8,772.2 L995.7,770.2" fill="none" stroke="#4d4d4d" stroke-width="2.2" stroke-linejoin="round" stroke-linecap="round"/>
<path d="M998.4,776.6 L1000.3,777.1 L1002.3,777.5 L1004.6,777.9 L1005.0,780.5 L1005.6,783.0 L1005.4,785.5 L1004.3,787.9 L1002.6,790.0 L1001.5,792.4" fill="none" stroke="#4d4d4d" stroke-width="1.4" stroke-linejoin="round" stroke-linecap="round"/>
<path d="M1034.1,760.1 L1035.9,758.9 L1038.5,759.4 L1040.7,758.9 L1042.1,757.7 L1044.7,757.2 L1047.3,756.9 L1049.9,756.4 L1051.8,754.5 L1054.1,754.8 L1056.2,753.9 L1058.4,753.8" fill="none" stroke="#4d4d4d" stroke-width="1.8" stroke-linejoin="round" stroke-linecap="round"/>
<path d="M1448.4,197.9 L1447.3,199.5 L1445.2,200.6 L1444.2,202.3 L1441.4,202.9 L1439.7,203.4 L1439.5,206.5 L1436.5,206.2 L1434.7,207.3 L1433.1,208.8 L1433.0,212.2 L1431.7,213.8 L1430.0,214.9 L1428.4,216.1 L1426.7,217.2 L1424.1,216.7 L1421.4,217.2 L1420.4,218.8 L1420.4,221.2 L1418.6,222.2 L1416.9,223.2 L1418.1,226.6 L1415.0,226.4 L1412.6,227.6 L1412.4,229.5 L1411.9,231.2 L1412.2,233.4 L1412.7,235.5 L1409.6,236.2 L1410.7,238.6 L1408.6,238.9 L1406.5,239.4 L1406.2,242.6 L1404.5,243.7 L1401.5,242.8 L1400.4,244.8 L1400.1,247.9 L1398.5,249.2 L1396.8,250.2 L1393.3,248.5 L1391.9,250.0 L1391.8,253.5 L1388.0,252.7 L1386.6,254.0 L1387.0,256.3 L1387.4,258.6 L1385.8,259.9 L1386.6,262.4 L1386.4,263.6 L1381.9,265.0 L1383.0,267.2 L1383.2,269.3 L1381.1,271.0 L1383.0,273.2 L1381.6,275.6 L1382.2,277.5 L1385.3,278.7 L1385.6,280.7 L1385.9,282.7 L1386.6,284.5 L1385.6,286.6 L1386.3,289.0 L1385.0,290.8 L1385.6,293.2 L1381.6,294.1 L1382.7,296.7" fill="none" stroke="#4d4d4d" stroke-width="2.4" stroke-linejoin="round" stroke-linecap="round"/>
<path d="M1397.5,323.4 L1395.3,324.0 L1393.1,324.5 L1390.6,324.6 L1389.1,326.8 L1386.4,326.6 L1384.9,328.7 L1383.2,329.9 L1381.6,331.1 L1380.8,333.5 L1378.4,333.8 L1377.6,335.1 L1376.6,338.6 L1373.8,337.4 L1372.6,339.9 L1370.3,339.9 L1368.1,340.2 L1366.4,341.4 L1364.8,342.9 L1362.7,343.3 L1360.7,344.2 L1358.5,344.7 L1357.5,347.4 L1355.0,347.4 L1353.5,349.2 L1351.5,350.2 L1349.0,350.0 L1347.4,351.6 L1345.4,352.4 L1343.3,352.9 L1341.2,353.4 L1339.9,355.6 L1337.8,356.1 L1336.0,357.3 L1334.3,359.0 L1332.3,360.3 L1331.1,362.4 L1329.3,364.0" fill="none" stroke="#4d4d4d" stroke-width="2.0" stroke-linejoin="round" stroke-linecap="round"/>
<path d="M1252.6,623.3 L1252.0,625.2 L1250.2,626.7 L1250.1,628.9 L1248.9,630.6 L1248.1,632.5 L1249.0,635.0 L1247.6,636.6 L1245.4,637.6 L1244.1,639.4 L1244.0,642.3 L1242.6,644.0 L1240.5,645.1 L1239.8,647.4 L1238.0,648.8 L1236.8,650.8 L1234.3,651.1 L1232.6,652.3 L1231.0,653.6 L1230.9,656.3 L1228.5,656.7 L1227.1,658.3 L1226.7,660.6 L1224.0,661.1 L1222.5,662.6 L1222.8,665.4 L1220.1,665.9 L1220.0,668.5 L1218.5,670.0 L1216.2,670.9 L1215.3,672.8 L1215.6,675.5 L1213.9,676.7 L1212.6,678.3 L1211.9,680.2 L1211.1,682.1 L1209.7,683.5 L1208.0,685.0 L1209.0,687.6 L1207.0,689.0 L1206.6,691.0 L1206.9,693.3 L1205.4,694.9 L1204.0,696.6 L1203.9,698.8 L1204.6,701.1 L1201.8,702.7 L1201.9,704.9 L1201.0,706.8 L1202.8,709.4 L1202.0,711.3 L1201.0,713.3" fill="none" stroke="#4d4d4d" stroke-width="1.8" stroke-linejoin="round" stroke-linecap="round"/>
<path d="M1203.3,726.4 L1202.8,729.2 L1204.6,731.1 L1205.8,733.3 L1206.1,735.7 L1206.2,738.0 L1207.3,739.8 L1209.2,741.1 L1210.3,742.8 L1209.9,745.4 L1211.4,746.9 L1212.1,748.9 L1214.1,750.2 L1215.1,752.0 L1214.9,754.4 L1216.4,755.9 L1218.1,757.4 L1217.7,760.1 L1219.4,761.6 L1220.2,763.6 L1222.6,764.7 L1222.4,767.4 L1224.9,768.4 L1224.7,771.1 L1226.5,772.5 L1227.8,774.2 L1228.5,776.2 L1229.0,778.4 L1230.8,779.8" fill="none" stroke="#4d4d4d" stroke-width="1.6" stroke-linejoin="round" stroke-linecap="round"/>
<path d="M1256.6,901.5 L1254.5,902.4 L1252.1,902.0 L1249.6,903.3 L1247.3,902.0 L1245.2,900.3 L1242.5,898.6 L1242.0,896.3 L1241.3,894.0 L1240.5,892.0 L1240.2,889.5 L1238.0,888.3 L1237.2,886.2 L1234.9,885.8 L1233.3,884.2 L1231.1,883.8 L1229.6,882.2 L1227.4,881.5 L1226.5,878.8 L1224.4,878.0 L1221.8,877.3 L1221.5,875.0 L1221.7,872.4 L1218.9,871.3 L1219.7,868.5 L1217.8,866.4 L1217.0,863.9 L1215.8,860.6 L1213.9,862.6 L1211.5,863.3 L1209.3,862.4 L1208.1,862.0 L1205.6,860.1 L1205.9,857.2 L1204.6,854.7 L1203.1,853.0 L1201.3,851.5 L1199.8,849.8 L1197.8,848.4 L1196.6,846.4 L1195.1,844.7 L1195.1,841.8 L1192.8,840.7 L1190.7,839.1 L1188.8,837.4 L1188.4,834.2 L1186.9,832.3 L1185.0,830.8 L1182.5,829.4 L1182.0,826.7 L1181.7,823.9 L1181.6,821.1 L1180.5,818.6 L1180.2,815.9 L1178.9,813.7 L1179.6,811.4 L1180.6,809.0 L1180.5,806.2 L1180.6,803.8 L1182.3,801.5 L1180.3,799.6 L1180.2,797.5 L1180.3,795.4" fill="none" stroke="#4d4d4d" stroke-width="1.8" stroke-linejoin="round" stroke-linecap="round"/>
<path d="M1174.8,784.6 L1172.0,783.8 L1169.3,783.5 L1168.1,781.7 L1166.3,780.2 L1165.7,778.0 L1163.4,777.2 L1162.3,775.3 L1160.5,774.0 L1159.4,772.0 L1157.3,771.0 L1155.8,769.6 L1154.7,767.6 L1153.0,766.2 L1152.0,764.2 L1149.6,762.4 L1147.5,760.1 L1145.6,759.5 L1143.8,758.6 L1141.9,757.4 L1139.7,758.3 L1137.5,758.3 L1134.9,756.8 L1133.9,759.4 L1131.5,759.2 L1129.6,760.4 L1129.4,763.0 L1126.9,763.6 L1125.0,764.4 L1123.4,765.8 L1121.3,766.6 L1119.4,768.3 L1118.6,771.2 L1116.2,772.5 L1114.4,773.4 L1112.2,773.7 L1110.7,774.6 L1108.2,774.6 L1105.8,775.1 L1104.0,774.8 L1101.8,772.8 L1100.1,770.8 L1099.6,768.3 L1099.9,766.8 L1098.2,764.8 L1096.7,762.7 L1094.3,762.0 L1093.0,759.4 L1090.5,758.7 L1088.2,757.6 L1085.7,756.7 L1083.3,755.6 L1080.7,755.4 L1078.0,755.9 L1075.8,753.5 L1073.5,753.7 L1071.2,754.3 L1069.0,754.3 L1066.6,754.2 L1064.6,755.8 L1062.0,754.7 L1059.9,756.2 L1057.5,756.0" fill="none" stroke="#4d4d4d" stroke-width="1.6" stroke-linejoin="round" stroke-linecap="round"/>
<path d="M136.1,282.8 L137.6,281.4 L139.5,280.2 L140.0,278.0 L142.0,276.9 L143.6,275.5 L144.2,273.3 L145.3,271.5 L146.7,270.0 L148.1,268.3 L149.3,266.5 L150.2,264.5 L151.4,262.7 L151.6,260.3 L152.8,258.5 L154.1,256.8 L156.0,255.4 L156.4,253.2 L157.6,251.3 L157.5,248.8 L158.4,246.8 L159.6,244.8 L161.1,243.0 L162.0,241.0 L162.8,238.9 L162.9,236.6 L164.0,234.6 L164.5,232.5 L165.1,230.4 L165.1,228.2 L167.1,226.5 L166.5,224.0 L168.5,222.3 L169.0,220.2 L168.1,217.7 L169.6,216.0 L170.9,214.2 L171.8,212.3 L171.6,210.0 L171.9,207.9 L172.5,205.8 L174.4,204.3 L173.8,201.8 L175.1,200.0 L174.8,197.9 L175.9,196.0 L177.1,194.2 L176.1,191.9 L177.7,190.1 L177.6,188.0 L178.7,186.1 L178.8,184.1 L178.4,181.9 L180.0,180.1 L179.5,178.0 L179.0,175.8 L179.2,173.8 L180.4,171.9 L180.5,169.8 L180.5,167.8 L180.5,165.7 L181.2,163.7 L181.7,161.7" fill="none" stroke="#4d4d4d" stroke-width="1.5" stroke-linejoin="round" stroke-linecap="round"/>
<path d="M142.9,480.1 L143.6,477.8 L141.5,476.0 L142.6,473.6 L142.3,471.5 L140.5,469.7 L141.7,467.3 L140.8,465.3 L140.7,463.0 L138.8,461.4 L138.1,459.2 L137.3,457.2 L137.6,454.6 L136.0,452.9 L134.7,451.0 L134.0,448.8 L132.9,446.9 L131.7,445.1 L131.1,443.1 L131.8,440.7 L130.0,439.2 L130.5,436.8 L128.5,435.4 L127.8,433.4 L128.0,431.3 L127.0,429.4 L127.1,427.3 L127.9,425.2 L127.4,423.2 L126.9,421.2 L126.2,419.3 L126.5,417.2 L126.2,415.2 L125.1,413.3 L125.3,411.1 L123.8,409.1 L125.0,406.9 L124.3,404.8 L124.7,402.7 L124.4,400.6 L123.5,398.5 L122.9,396.4 L124.5,394.2 L122.7,392.2 L123.2,390.0 L122.5,388.1 L121.9,386.1 L122.3,383.9 L122.2,381.8 L120.3,380.1 L120.6,377.9 L119.4,376.1 L119.4,374.0 L118.6,372.1 L118.3,370.0" fill="none" stroke="#4d4d4d" stroke-width="1.5" stroke-linejoin="round" stroke-linecap="round"/>
<path d="M1256.4,899.5 L1254.7,900.7 L1253.0,901.8 L1250.5,901.8 L1249.3,903.7 L1248.0,905.3 L1245.6,905.3 L1243.7,906.1 L1242.3,908.1 L1240.8,909.6 L1238.9,910.5 L1237.1,911.7 L1235.0,912.3 L1233.3,913.8 L1231.2,914.3 L1229.2,915.1 L1226.9,915.4 L1224.7,915.6 L1222.8,916.7 L1221.0,918.0" fill="none" stroke="#4d4d4d" stroke-width="2.2" stroke-linejoin="round" stroke-linecap="round"/>
<circle cx="1196" cy="922" r="1" fill="#4d4d4d"/>
<path d="M1184.0,818.3 L1191.3,816.5 L1192.3,821.1 L1188.6,829.3 L1185.8,831.2Z" fill="#fdfefd" stroke="#4d4d4d" stroke-width="1.2"/>
<path d="M1202.4,849.5 L1206.9,845.8 L1207.9,851.3 L1204.2,855.0Z" fill="#fdfefd" stroke="#4d4d4d" stroke-width="1.2"/>
<path d="M1201.5,732.2 L1201.4,734.4 L1201.0,736.6 L1201.1,738.8 L1200.9,741.0 L1201.1,742.9 L1201.8,745.3 L1201.7,748.0 L1203.8,749.8 L1204.2,752.3 L1204.2,754.5 L1204.0,756.7 L1205.2,758.9 L1205.3,761.1 L1205.5,763.1 L1206.2,765.5 L1207.0,767.9 L1207.2,770.5 L1208.8,772.5" fill="none" stroke="#4d4d4d" stroke-width="2.0" stroke-linejoin="round" stroke-linecap="round"/>
<path d="M1231.2,782.0 L1232.3,783.8 L1234.6,784.9 L1235.8,786.8 L1236.1,789.3 L1238.2,791.3 L1240.9,792.7" fill="none" stroke="#4d4d4d" stroke-width="2.4" stroke-linejoin="round" stroke-linecap="round"/>
<path d="M1241.0,891.7 L1241.8,893.6 L1244.2,894.7 L1244.5,897.0 L1244.9,899.9 L1246.8,900.8 L1248.6,902.0 L1250.4,903.4 L1252.5,903.1 L1254.4,901.6 L1256.5,900.6 L1259.0,900.2 L1261.4,899.2 L1263.0,897.7 L1263.6,895.6 L1264.5,893.7 L1265.8,892.0 L1266.2,889.8 L1267.4,888.0" fill="none" stroke="#4d4d4d" stroke-width="1.6" stroke-linejoin="round" stroke-linecap="round"/>
<path d="M769.7,916.6 L766.9,916.7 L764.9,914.5 L762.6,914.8 L761.2,912.8 L759.1,912.6 L756.9,912.5 L754.9,912.1 L753.0,911.2 L751.4,909.7 L749.3,909.2 L747.0,909.9 L744.9,909.6 L743.0,908.3 L741.0,907.8 L738.8,907.7 L736.7,907.7 L734.8,906.5 L732.4,906.9 L730.7,905.6 L728.9,904.6 L727.4,903.0 L725.2,902.9 L723.5,901.7 L721.3,901.7 L719.6,900.3 L718.3,898.7 L718.1,896.1 L716.3,894.7 L714.3,893.4 L713.0,891.6 L713.0,889.2 L712.5,886.9 L711.2,885.1 L710.1,883.1 L710.0,880.7 L709.6,878.5 L707.5,876.8 L706.6,874.8 L706.7,872.5 L706.4,870.3 L706.5,868.1 L705.1,866.1 L705.8,863.7 L705.0,861.4 L703.2,860.2 L701.4,859.2 L701.0,856.6 L698.6,856.1 L697.8,853.9 L695.5,853.3 L694.1,851.9 L693.4,849.7 L691.5,848.3 L691.4,845.7 L689.4,844.3 L687.7,842.7 L686.6,840.8 L685.7,838.7 L685.0,836.6 L684.6,834.4 L682.2,833.3 L681.7,831.2 L680.5,829.5 L680.9,827.0 L678.5,825.9 L677.4,824.1 L676.4,822.3 L676.2,820.2 L674.2,817.7 L671.9,816.2 L670.3,814.7 L669.4,812.7 L668.0,811.2 L665.7,810.2 L664.2,808.7 L664.0,806.1 L662.4,804.7 L659.9,803.9 L659.6,801.5 L657.9,800.2 L656.0,799.0 L654.0,797.9 L651.9,797.0 L649.9,796.1 L648.3,794.4 L646.4,793.1 L644.7,790.8 L642.7,792.5 L640.7,790.8 L638.7,792.3 L636.7,792.0 L634.7,791.1 L632.7,791.1 L630.7,791.8 L628.7,792.6 L626.7,791.8 L624.9,791.9 L622.6,792.8 L622.3,795.4 L620.6,796.8 L618.4,797.8 L618.3,800.6 L616.3,801.8 L614.3,802.8 L612.7,804.1 L611.9,806.5 L610.2,807.8 L608.5,809.0 L605.8,808.9 L604.9,811.2 L602.7,811.7 L601.8,812.7 L599.4,812.4 L597.7,811.3 L596.8,809.0 L594.8,808.4 L592.7,807.8 L591.6,805.8 L589.4,805.3 L587.7,804.2 L585.7,803.4 L585.0,801.0 L583.5,799.6 L581.5,798.9 L580.2,797.2 L577.3,797.3 L576.3,795.4 L575.3,793.4 L574.7,791.1 L573.4,789.5 L571.2,788.5 L569.6,787.0 L568.6,785.1 L567.3,783.3 L566.7,781.1 L564.1,780.2 L564.6,777.8 L563.8,775.8 L563.3,773.8 L562.5,771.8 L561.6,769.9 L560.4,768.1 L559.7,766.1 L559.1,764.1 L559.2,761.8 L557.4,760.6 L556.1,759.0 L555.4,756.7 L553.2,755.9 L551.5,754.7 L550.0,753.3 L549.2,751.1 L547.4,749.9 L546.9,747.5 L545.2,746.2 L543.9,744.5 L541.3,744.0 L539.6,742.7 L538.1,741.2 L537.1,739.1 L535.9,737.3 L534.0,736.1 L532.2,734.9 L530.9,733.2 L529.7,731.3 L528.3,729.8 L526.9,728.0 L525.7,726.2 L524.0,724.8 L521.7,723.8 L521.4,721.2 L519.1,720.2 L518.0,718.3" fill="none" stroke="#4d4d4d" stroke-width="2.0" stroke-linejoin="round" stroke-linecap="round"/>
<path d="M237.4,652.7 L236.9,650.4 L237.4,648.0 L236.4,645.7 L236.3,643.4 L235.9,641.3 L235.3,639.3 L236.0,637.0 L235.1,635.0 L234.3,633.0 L234.0,630.9 L234.5,628.6 L233.3,626.7 L232.0,625.0 L231.9,622.7 L230.7,620.8 L230.2,618.7 L228.0,617.4 L227.6,615.2 L227.0,612.9 L225.0,611.5 L223.1,610.1 L220.3,610.0 L218.5,608.3 L216.2,607.0 L215.2,605.0 L215.1,602.4 L213.5,600.8 L212.8,598.6 L210.9,597.1 L210.3,594.5 L208.1,594.2 L206.1,593.5 L204.6,591.8 L202.9,590.7 L200.4,591.0 L198.9,589.3 L197.1,588.4 L195.0,588.0 L193.2,586.9 L191.2,586.1 L189.4,585.0 L187.6,583.8 L186.1,582.3 L184.3,581.2 L182.2,580.7 L180.2,579.9 L178.6,578.4 L177.1,576.9 L174.9,576.5 L173.1,575.2 L171.4,574.2 L170.3,572.2 L168.4,571.4 L166.3,570.8 L164.6,569.6 L163.3,568.0 L161.8,566.7 L162.1,564.7 L161.4,562.6 L161.6,560.7 L162.7,558.7 L162.4,556.7 L162.3,554.7 L162.5,552.7 L163.7,550.8 L162.8,548.7 L163.4,546.7 L162.3,544.8 L161.5,542.9 L161.3,540.6 L160.7,538.6 L158.9,537.0 L157.9,535.2 L157.8,532.9 L156.2,531.3 L155.1,529.5 L155.6,526.9 L154.0,525.3 L153.8,523.1 L152.5,521.4 L152.5,519.2 L151.2,517.5 L150.0,515.7 L149.1,513.9 L149.2,511.6 L148.7,509.6 L148.4,507.5 L146.5,506.0 L146.6,503.8 L145.5,502.0 L145.0,500.0 L144.3,498.0 L144.3,496.0 L144.5,494.0 L145.0,491.9 L143.5,490.1 L144.0,488.0 L144.3,486.0 L144.4,483.9 L143.0,482.0 L143.3,480.0" fill="none" stroke="#4d4d4d" stroke-width="1.6" stroke-linejoin="round" stroke-linecap="round"/>
<path d="M393.3,380.0 L398.3,379.3 L401.7,390.0 L408.3,388.3 L415.0,390.0 L416.0,405.0 L408.3,411.7 L401.7,413.3 L398.3,405.0 L392.7,396.7Z" fill="#fdfefd" stroke="#4d4d4d" stroke-width="1"/>
<path d="M1234.4,842.2 L1240.9,834.8 L1246.4,836.7 L1248.2,842.2 L1247.3,848.6 L1240.9,847.7Z" fill="#fdfefd" stroke="#4d4d4d" stroke-width="1"/>
<defs>
<clipPath id="ak"><path d="M101.2,737.5 L107.5,728.0 L122.5,730.0 L132.5,725.5 L138.8,712.5 L148.8,705.0 L160.0,702.5 L170.0,697.5 L182.5,697.5 L192.5,689.5 L200.0,693.8 L207.5,702.5 L217.5,703.8 L225.0,711.2 L235.0,713.8 L247.5,713.0 L260.0,716.2 L272.5,720.0 L285.0,721.2 L292.5,718.8 L302.5,723.8 L308.8,727.5 L315.0,792.5 L322.5,860.0 L330.0,932.5 L329.0,932.6 L336.8,931.9 L343.9,930.5 L351.0,929.0 L351.7,934.0 L356.7,937.5 L363.7,943.9 L370.8,949.6 L373.7,954.5 L382.9,948.2 L383.6,941.1 L392.1,934.7 L399.2,939.7 L402.0,945.3 L410.5,952.4 L420.4,958.1 L427.5,966.6 L436.0,976.5 L444.5,985.0 L448.7,993.5 L460.1,996.3 L474.2,999.2 L478.5,1016.1 L474.2,1030.3 L467.1,1027.5 L462.9,1030.3 L457.2,1036.0 L447.3,1038.8 L441.6,1033.1 L434.6,1027.5 L430.3,1020.4 L426.1,1013.3 L419.0,1011.9 L416.1,1007.6 L411.9,1004.8 L404.8,999.2 L399.2,994.9 L396.3,987.8 L387.8,976.5 L385.0,968.0 L379.3,966.6 L369.4,960.9 L359.5,953.8 L353.8,951.0 L345.3,947.5 L339.7,943.9 L334.0,944.6 L328.3,941.8 L325.5,938.2 L326.2,937.5 L315.0,938.8 L303.8,940.0 L295.0,937.5 L287.5,930.0 L280.0,935.0 L270.0,935.0 L260.0,940.0 L247.5,942.5 L237.5,947.5 L227.5,953.8 L217.5,960.0 L208.8,957.5 L210.0,943.8 L207.5,938.8 L200.0,945.0 L190.0,953.8 L185.0,960.0 L190.0,967.5 L182.5,975.0 L170.0,982.5 L160.0,990.0 L152.5,996.2 L145.0,1001.2 L135.0,1007.5 L122.5,1013.8 L110.0,1020.0 L97.5,1025.0 L85.0,1030.0 L72.5,1036.2 L60.0,1038.8 L47.5,1041.2 L37.5,1046.2 L25.0,1047.5 L15.0,1051.2 L15.0,1047.5 L22.5,1043.8 L32.5,1042.5 L40.0,1036.2 L47.5,1030.0 L57.5,1030.0 L67.5,1027.5 L75.0,1022.5 L82.5,1017.5 L92.5,1017.5 L101.2,1016.2 L107.5,1010.0 L115.0,1006.2 L125.0,1002.5 L132.5,996.2 L140.0,990.0 L141.2,982.5 L146.2,972.5 L148.8,963.8 L140.0,962.5 L130.0,967.5 L127.5,958.8 L121.2,957.5 L115.0,960.0 L105.0,958.8 L93.8,956.2 L97.5,947.5 L98.8,935.0 L95.0,927.5 L78.8,927.5 L76.2,920.0 L68.8,910.0 L70.0,900.0 L68.8,906.2 L70.0,892.5 L67.5,882.5 L72.5,872.5 L82.5,865.0 L90.0,856.2 L97.5,853.8 L106.2,857.5 L110.0,850.0 L117.5,852.5 L126.2,851.2 L130.0,845.0 L127.5,835.0 L132.5,831.2 L132.5,825.0 L125.0,826.2 L113.8,830.0 L110.0,825.0 L97.5,824.5 L90.0,822.5 L82.5,818.8 L81.2,810.0 L82.5,803.8 L77.5,797.5 L72.5,791.2 L80.0,787.5 L95.0,783.8 L110.0,780.5 L116.2,782.5 L112.5,790.0 L120.0,792.5 L130.0,796.2 L136.2,792.5 L137.5,782.5 L133.8,776.2 L127.5,775.0 L120.0,773.8 L117.5,765.0 L112.5,755.0 L106.2,743.8Z M173.8,998.8 L182.5,991.2 L192.5,983.8 L202.5,975.0 L210.0,980.0 L206.2,990.0 L205.0,997.5 L197.5,1005.0 L187.5,1011.2 L180.0,1016.2 L173.8,1017.5 L176.2,1007.5Z M43.8,908.8 L52.5,907.5 L60.0,910.0 L63.0,916.2 L56.2,921.2 L50.0,917.5 L46.2,913.8Z"/></clipPath>
</defs>
<g clip-path="url(#ak)">
<rect x="14" y="664" width="490" height="404" fill="#A6C3E1"/>
<path d="M85.0,725.0 L111.2,727.5 L109.5,735.0 L105.0,743.8 L85.0,760.0Z" fill="#C4CDE9" stroke="#7f8aa0" stroke-width="0.8"/>
<path d="M60.0,780.0 L88.8,783.8 L85.0,798.8 L82.0,807.5 L60.0,810.0Z" fill="#C4CDE9" stroke="#7f8aa0" stroke-width="0.8"/>
<path d="M92.5,835.0 C99.1,833.1 95.0,827.0 96.2,823.8 C97.4,820.6 100.8,811.4 102.5,807.5 C104.2,803.6 109.9,793.2 111.2,790.0 C112.5,786.8 111.9,782.2 113.8,780.0 C115.7,777.8 124.4,773.5 127.5,771.2 C130.6,768.9 136.2,762.6 140.0,760.0 C143.8,757.4 154.8,751.1 160.0,748.8 C165.2,746.5 179.2,741.9 185.0,740.0 C190.8,738.1 205.0,734.5 210.0,732.5 C215.0,730.5 224.0,724.7 227.5,722.5 C231.0,720.3 237.7,716.7 240.0,713.8 C242.3,710.9 217.2,699.1 247.5,697.5 C277.8,695.9 470.5,653.0 500.0,700.0 C529.5,747.0 553.7,1053.3 500.0,1100.0 C446.3,1146.7 93.7,1130.3 40.0,1100.0 C-13.7,1069.7 33.9,870.9 40.0,840.0 C46.1,809.1 85.9,836.9 92.5,835.0Z" fill="#7AB4E4" stroke="#7f8aa0" stroke-width="0.8"/>
<path d="M60.0,865.0 L80.0,866.2 L74.5,885.0 L71.5,896.2 L60.0,900.0Z" fill="#A6C3E1" stroke="#7f8aa0" stroke-width="0.8"/>
<path d="M83.8,937.5 C84.5,917.1 85.2,929.4 86.2,925.0 C87.2,920.6 90.9,905.5 92.5,900.0 C94.1,894.5 98.4,882.5 100.0,877.5 C101.6,872.5 105.0,860.7 106.2,857.5 C107.4,854.3 107.2,852.6 110.0,850.0 C112.8,847.4 127.1,839.1 130.0,835.0 C132.9,830.9 132.7,819.1 135.0,815.0 C137.3,810.9 145.9,803.5 150.0,800.0 C154.1,796.5 164.5,788.1 170.0,785.0 C175.5,781.9 190.8,775.8 197.5,773.8 C204.2,771.8 221.7,769.1 227.5,767.5 C233.3,765.9 242.2,762.9 247.5,760.0 C252.8,757.1 267.2,746.0 272.5,742.5 C277.8,739.0 288.7,732.0 292.5,730.0 C296.3,728.0 301.5,727.0 305.0,725.5 C308.5,724.0 299.8,718.1 322.5,717.5 C345.2,716.9 479.3,675.4 500.0,720.0 C520.7,764.6 549.0,1055.7 500.0,1100.0 C451.0,1144.3 128.6,1119.0 80.0,1100.0 C31.4,1081.0 83.1,957.9 83.8,937.5Z" fill="#3A9FDD" stroke="#7f8aa0" stroke-width="0.8"/>
<path d="M335.0,790.0 C313.4,790.3 320.8,792.1 315.0,792.5 C309.2,792.9 292.0,792.9 285.0,793.8 C278.0,794.7 262.0,798.1 255.0,800.0 C248.0,801.9 231.4,807.4 225.0,810.0 C218.6,812.6 205.2,819.3 200.0,822.5 C194.8,825.7 184.1,833.4 180.0,837.5 C175.9,841.6 168.2,852.5 165.0,857.5 C161.8,862.5 155.4,874.5 152.5,880.0 C149.6,885.5 142.9,898.9 140.0,905.0 C137.1,911.1 130.1,926.4 127.5,932.5 C124.9,938.6 118.8,954.4 117.5,957.5 C116.2,960.6 116.6,956.8 116.2,958.8 C115.8,960.8 114.2,958.5 113.8,975.0 C113.4,991.5 67.9,1085.4 113.0,1100.0 C158.1,1114.6 454.9,1136.2 500.0,1100.0 C545.1,1063.8 519.2,826.2 500.0,790.0 C480.8,753.8 356.6,789.7 335.0,790.0Z" fill="#0B5FA5" stroke="#7f8aa0" stroke-width="0.8"/>
<path d="M145.0,1010.0 C139.3,1005.0 149.4,1000.7 151.2,997.5 C152.9,994.3 157.5,987.5 160.0,982.5 C162.5,977.5 169.6,961.1 172.5,955.0 C175.4,948.9 181.8,935.5 185.0,930.0 C188.2,924.5 198.5,909.5 200.0,907.5 C201.5,905.5 195.5,914.2 197.5,912.5 C199.5,910.8 212.5,896.0 217.5,892.5 C222.5,889.0 235.0,884.0 240.0,882.5 C245.0,881.0 255.3,879.7 260.0,880.0 C264.7,880.3 275.6,882.7 280.0,885.0 C284.4,887.3 293.7,895.9 297.5,900.0 C301.3,904.1 309.3,915.6 312.5,920.0 C315.7,924.4 322.4,933.4 325.0,937.5 C327.6,941.6 334.4,947.7 335.0,955.0 C335.6,962.3 345.8,990.1 330.0,1000.0 C314.2,1009.9 221.6,1038.8 200.0,1040.0 C178.4,1041.2 150.7,1015.0 145.0,1010.0Z" fill="#2D2070" stroke="#7f8aa0" stroke-width="0.8"/>
<path d="M417,940 L500,940 L500,1068 L417,1068Z" fill="#3A9FDD"/>
<path d="M445,940 L500,940 L500,1068 L445,1068Z" fill="#7AB4E4"/>
<path d="M10,1000 L98,1000 L98,1068 L10,1068Z" fill="#3A9FDD"/>
<path d="M10,1000 L62,1000 L62,1068 L10,1068Z" fill="#7AB4E4"/>
</g>
<path d="M101.2,737.5 L107.5,728.0 L122.5,730.0 L132.5,725.5 L138.8,712.5 L148.8,705.0 L160.0,702.5 L170.0,697.5 L182.5,697.5 L192.5,689.5 L200.0,693.8 L207.5,702.5 L217.5,703.8 L225.0,711.2 L235.0,713.8 L247.5,713.0 L260.0,716.2 L272.5,720.0 L285.0,721.2 L292.5,718.8 L302.5,723.8 L308.8,727.5 L315.0,792.5 L322.5,860.0 L330.0,932.5 L329.0,932.6 L336.8,931.9 L343.9,930.5 L351.0,929.0 L351.7,934.0 L356.7,937.5 L363.7,943.9 L370.8,949.6 L373.7,954.5 L382.9,948.2 L383.6,941.1 L392.1,934.7 L399.2,939.7 L402.0,945.3 L410.5,952.4 L420.4,958.1 L427.5,966.6 L436.0,976.5 L444.5,985.0 L448.7,993.5 L460.1,996.3 L474.2,999.2 L478.5,1016.1 L474.2,1030.3 L467.1,1027.5 L462.9,1030.3 L457.2,1036.0 L447.3,1038.8 L441.6,1033.1 L434.6,1027.5 L430.3,1020.4 L426.1,1013.3 L419.0,1011.9 L416.1,1007.6 L411.9,1004.8 L404.8,999.2 L399.2,994.9 L396.3,987.8 L387.8,976.5 L385.0,968.0 L379.3,966.6 L369.4,960.9 L359.5,953.8 L353.8,951.0 L345.3,947.5 L339.7,943.9 L334.0,944.6 L328.3,941.8 L325.5,938.2 L326.2,937.5 L315.0,938.8 L303.8,940.0 L295.0,937.5 L287.5,930.0 L280.0,935.0 L270.0,935.0 L260.0,940.0 L247.5,942.5 L237.5,947.5 L227.5,953.8 L217.5,960.0 L208.8,957.5 L210.0,943.8 L207.5,938.8 L200.0,945.0 L190.0,953.8 L185.0,960.0 L190.0,967.5 L182.5,975.0 L170.0,982.5 L160.0,990.0 L152.5,996.2 L145.0,1001.2 L135.0,1007.5 L122.5,1013.8 L110.0,1020.0 L97.5,1025.0 L85.0,1030.0 L72.5,1036.2 L60.0,1038.8 L47.5,1041.2 L37.5,1046.2 L25.0,1047.5 L15.0,1051.2 L15.0,1047.5 L22.5,1043.8 L32.5,1042.5 L40.0,1036.2 L47.5,1030.0 L57.5,1030.0 L67.5,1027.5 L75.0,1022.5 L82.5,1017.5 L92.5,1017.5 L101.2,1016.2 L107.5,1010.0 L115.0,1006.2 L125.0,1002.5 L132.5,996.2 L140.0,990.0 L141.2,982.5 L146.2,972.5 L148.8,963.8 L140.0,962.5 L130.0,967.5 L127.5,958.8 L121.2,957.5 L115.0,960.0 L105.0,958.8 L93.8,956.2 L97.5,947.5 L98.8,935.0 L95.0,927.5 L78.8,927.5 L76.2,920.0 L68.8,910.0 L70.0,900.0 L68.8,906.2 L70.0,892.5 L67.5,882.5 L72.5,872.5 L82.5,865.0 L90.0,856.2 L97.5,853.8 L106.2,857.5 L110.0,850.0 L117.5,852.5 L126.2,851.2 L130.0,845.0 L127.5,835.0 L132.5,831.2 L132.5,825.0 L125.0,826.2 L113.8,830.0 L110.0,825.0 L97.5,824.5 L90.0,822.5 L82.5,818.8 L81.2,810.0 L82.5,803.8 L77.5,797.5 L72.5,791.2 L80.0,787.5 L95.0,783.8 L110.0,780.5 L116.2,782.5 L112.5,790.0 L120.0,792.5 L130.0,796.2 L136.2,792.5 L137.5,782.5 L133.8,776.2 L127.5,775.0 L120.0,773.8 L117.5,765.0 L112.5,755.0 L106.2,743.8Z M173.8,998.8 L182.5,991.2 L192.5,983.8 L202.5,975.0 L210.0,980.0 L206.2,990.0 L205.0,997.5 L197.5,1005.0 L187.5,1011.2 L180.0,1016.2 L173.8,1017.5 L176.2,1007.5Z M43.8,908.8 L52.5,907.5 L60.0,910.0 L63.0,916.2 L56.2,921.2 L50.0,917.5 L46.2,913.8Z" fill="none" stroke="#4d4d4d" stroke-width="1.6" stroke-linejoin="round"/>
<path d="M393.3,941.8 L391.8,945.2 L392.8,947.1 L395.5,948.1 L397.9,949.2 L396.3,952.7 L399.0,953.6 L398.5,956.5 L400.5,957.8 L401.0,960.0 L404.0,960.8 L402.9,963.6 L405.6,964.5 L405.9,966.5 L405.4,969.1 L406.3,970.8 L409.3,971.6 L410.1,973.4 L410.4,975.5 L410.9,977.5 L412.3,979.2 L413.6,981.1 L413.6,983.2 L412.3,985.5 L412.1,987.7 L415.6,989.1 L414.1,991.5 L413.8,993.6 L416.8,995.1 L414.4,997.7 L417.3,999.2 L416.0,1001.6 L416.6,1003.6 L416.7,1005.7 L417.6,1007.6" fill="none" stroke="#4d4d4d" stroke-width="2.2" stroke-linejoin="round" stroke-linecap="round"/>
<path d="M385.3,956.1 L387.2,957.4 L388.9,959.0 L391.2,959.5 L392.9,961.2 L395.2,961.5 L397.3,962.5 L400.3,962.4 L400.6,965.4 L402.6,966.5 L404.9,967.2 L405.3,970.1 L407.6,970.8" fill="none" stroke="#4d4d4d" stroke-width="2.2" stroke-linejoin="round" stroke-linecap="round"/>
<path d="M398.5,947.4 L400.7,948.0 L402.8,948.7 L403.5,950.9 L405.9,951.4 L407.2,952.9 L407.9,955.0 L410.1,955.6 L410.7,957.9 L411.9,959.5 L414.5,959.7 L414.4,962.7 L417.2,962.7 L417.0,965.8 L418.3,967.3 L420.4,968.0 L423.1,968.5 L423.6,971.2 L425.6,972.5 L425.7,975.6 L429.4,975.1 L429.2,978.6 L431.7,979.3" fill="none" stroke="#4d4d4d" stroke-width="2.2" stroke-linejoin="round" stroke-linecap="round"/>
<path d="M418.7,979.9 L420.3,981.6 L420.8,983.7 L423.6,984.9 L421.6,987.8 L424.0,989.2 L423.1,991.8 L424.0,993.7 L427.2,994.8 L425.8,997.6 L426.1,999.9 L429.8,1000.4 L429.9,1002.7 L429.5,1005.2 L432.4,1006.2 L430.9,1009.2 L433.9,1010.1 L433.1,1012.9 L436.2,1013.6 L436.0,1016.1 L435.8,1018.7 L439.2,1019.3 L440.1,1021.2 L440.5,1023.5 L442.2,1025.0 L444.2,1026.3 L444.9,1028.5 L446.1,1030.3 L444.8,1033.6 L447.3,1034.6" fill="none" stroke="#4d4d4d" stroke-width="2.2" stroke-linejoin="round" stroke-linecap="round"/>
<path d="M427.0,985.5 L427.9,987.4 L431.2,987.0 L431.0,990.0 L434.1,989.7 L434.5,992.2 L435.6,993.9 L437.7,994.6 L437.8,997.3 L440.0,997.9 L441.4,999.4 L441.8,1001.6 L445.2,1001.4 L444.0,1005.0 L446.3,1005.8 L448.2,1006.8 L448.4,1009.3 L451.1,1009.6 L450.4,1012.8 L452.7,1013.3 L453.8,1015.3 L452.7,1017.5 L454.1,1019.4 L455.4,1021.3 L453.7,1023.7 L456.5,1025.3 L454.0,1027.8 L456.4,1029.5 L455.8,1031.7" fill="none" stroke="#4d4d4d" stroke-width="2.2" stroke-linejoin="round" stroke-linecap="round"/>
<path d="M441.2,992.4 L441.7,994.8 L444.2,995.4 L445.4,997.1 L447.8,997.8 L450.0,998.6 L451.4,1000.3 L452.5,1002.1 L452.7,1004.8 L454.6,1005.9 L455.8,1007.6 L455.7,1010.1 L459.2,1010.3 L460.0,1012.2 L459.9,1014.7 L462.9,1015.1 L464.1,1016.8 L464.1,1019.2 L466.0,1020.4 L466.4,1022.6 L467.1,1024.6" fill="none" stroke="#4d4d4d" stroke-width="2.2" stroke-linejoin="round" stroke-linecap="round"/>
<path d="M388.5,973.0 L389.0,975.3 L390.4,976.8 L392.8,977.2 L393.2,979.7 L395.0,980.7 L397.3,981.2 L396.7,984.7 L399.9,984.4 L401.4,985.9 L402.8,987.4 L402.4,990.1 L402.9,992.3 L404.4,993.7 L406.7,994.5 L407.6,996.3" fill="none" stroke="#4d4d4d" stroke-width="2.2" stroke-linejoin="round" stroke-linecap="round"/>
<path d="M425.1,1001.4 L427.4,1002.1 L427.6,1005.2 L429.5,1006.4 L431.6,1007.3 L432.6,1009.5 L434.8,1010.4 L434.1,1013.1 L435.7,1014.7 L438.2,1015.8 L437.1,1018.7 L440.8,1019.2 L440.2,1021.9 L441.5,1023.6 L443.0,1025.2 L443.1,1027.5" fill="none" stroke="#4d4d4d" stroke-width="2.2" stroke-linejoin="round" stroke-linecap="round"/>
<path d="M451.2,998.0 L451.0,1001.4 L454.5,1000.7 L454.8,1003.6 L455.4,1006.0 L459.0,1005.3 L460.4,1006.9 L461.0,1009.4 L462.9,1010.5 L463.7,1012.4 L464.5,1014.4 L467.5,1014.5 L468.4,1016.4 L469.7,1018.0 L471.6,1019.0 L470.5,1022.5 L472.8,1023.2" fill="none" stroke="#4d4d4d" stroke-width="2.2" stroke-linejoin="round" stroke-linecap="round"/>
<path d="M406.7,959.9 L407.7,961.8 L410.9,962.9 L408.9,966.0 L410.0,967.9 L411.8,969.6 L411.7,972.0 L413.4,973.6 L415.3,974.7 L416.9,976.1 L417.7,978.0 L419.5,979.2 L419.8,981.4 L419.9,983.9 L421.8,985.0" fill="none" stroke="#4d4d4d" stroke-width="2.2" stroke-linejoin="round" stroke-linecap="round"/>
<path d="M432.5,991.0 L432.7,993.1 L434.0,994.8 L436.2,996.0 L436.1,998.3 L437.3,1000.0 L436.9,1002.4 L438.5,1003.9 L440.2,1005.4 L439.8,1007.9 L439.9,1010.3 L443.3,1010.9 L442.3,1014.0 L446.1,1014.3 L446.4,1016.6 L447.6,1018.5 L447.1,1021.3 L447.6,1023.5 L450.1,1024.6" fill="none" stroke="#4d4d4d" stroke-width="2.2" stroke-linejoin="round" stroke-linecap="round"/>
<path d="M329.1,933.2 L331.6,932.0 L334.3,933.0 L336.7,931.5 L339.0,930.8 L341.7,931.9 L344.0,930.8 L346.4,930.5 L348.7,929.9 L349.9,929.2 L351.4,931.5 L351.2,934.7 L353.1,935.6 L354.5,937.0 L356.8,937.4 L358.1,939.5 L360.1,940.8 L362.3,942.0 L364.1,943.4 L365.3,945.6 L367.9,946.0 L368.4,948.9 L371.5,949.2 L373.2,951.5 L373.2,953.7 L376.1,954.1 L377.2,951.7 L378.7,950.0 L380.4,948.5 L381.8,948.1 L383.6,945.9 L383.7,943.5 L383.9,941.5 L385.6,940.3 L386.4,937.7 L388.8,937.4 L390.2,935.7 L391.7,935.3 L393.4,936.6 L395.1,938.0 L398.0,937.6 L398.4,940.1 L399.2,942.0 L400.1,943.9 L402.6,944.6 L404.2,946.2 L406.0,947.4 L407.8,948.7 L408.3,951.6 L410.1,953.0 L412.3,953.8 L414.1,955.4 L416.3,956.1 L418.7,956.5 L421.1,957.5 L422.6,959.2 L422.8,961.9 L425.2,962.7 L426.4,964.6 L427.6,966.5 L429.8,967.5 L430.8,969.5 L432.1,971.2 L432.8,973.5 L434.8,974.6 L436.3,976.2 L436.6,978.7 L438.8,979.3 L439.7,981.3 L441.5,982.4 L443.9,982.8 L444.7,984.9 L445.7,987.1 L446.0,989.5 L448.0,991.2 L448.6,994.0 L451.0,994.1 L453.4,994.0 L455.3,996.0 L458.1,994.8 L459.9,997.1 L462.3,995.9 L464.4,996.0 L466.3,996.8 L468.0,998.6 L469.9,999.5 L472.4,997.6 L474.2,999.2 L474.8,1001.3 L474.6,1003.6 L476.5,1005.4 L476.4,1007.6 L477.2,1009.7 L476.7,1012.1 L478.5,1013.8 L477.5,1015.8 L478.4,1018.3 L477.9,1020.4 L476.2,1022.0 L476.0,1024.2 L476.3,1026.5 L474.5,1028.2 L473.8,1031.2 L472.1,1028.7 L469.6,1028.0 L466.7,1026.9 L464.8,1028.6 L463.1,1030.5 L461.6,1031.9 L460.2,1033.3 L458.0,1033.9 L457.5,1037.0 L455.0,1035.7 L453.6,1038.2 L451.5,1038.4 L449.4,1038.8 L448.0,1038.1 L445.9,1037.4 L444.2,1036.2 L443.7,1033.9 L441.2,1033.6 L439.8,1031.8 L438.1,1030.2 L436.7,1028.4 L435.1,1027.2 L433.8,1025.5 L432.1,1024.1 L431.0,1022.4 L429.6,1020.8 L430.0,1018.2 L428.5,1016.7 L427.6,1014.8 L425.9,1014.1 L423.7,1013.0 L421.5,1011.7 L419.2,1011.8 L416.8,1010.3 L416.0,1007.7 L414.5,1005.4 L411.5,1005.3 L409.7,1004.0 L408.1,1002.4 L406.9,1000.2 L405.3,998.5 L402.4,998.4 L400.6,997.0 L398.6,995.1 L397.8,992.7 L397.3,990.1 L395.6,988.3 L394.8,986.4 L393.3,985.0 L393.6,982.3 L391.9,981.0 L389.5,980.3 L389.9,977.4 L386.9,976.8 L386.8,974.5 L387.5,971.9 L386.4,969.9 L385.1,967.5 L382.1,967.5 L378.9,967.2 L377.5,965.2 L374.9,965.1 L373.0,963.8 L371.2,962.3 L368.7,961.8 L367.6,959.9 L366.5,958.0 L364.7,957.0 L362.8,956.2 L361.3,954.7 L359.5,953.9 L357.2,953.6 L355.8,951.7 L353.7,951.2 L351.9,949.6 L349.9,948.3 L347.4,948.5 L345.4,947.4 L343.8,945.8 L341.5,945.3 L339.8,944.5 L336.8,943.7 L334.4,943.8 L332.4,943.1 L330.4,942.3 L329.0,941.3 L327.2,939.7 L325.5,938.2" fill="none" stroke="#4d4d4d" stroke-width="2.0" stroke-linejoin="round" stroke-linecap="round"/>
<path d="M326.2,937.1 L324.0,937.9 L321.8,938.6 L319.4,937.9 L317.4,939.7 L315.0,939.0 L312.7,938.2 L310.5,938.6 L308.2,939.1 L306.1,940.5 L303.7,940.2 L301.6,939.5 L299.5,938.4 L297.1,938.4 L295.4,937.1 L294.4,935.1 L291.3,935.2 L290.8,932.7 L289.6,930.9 L287.7,930.3 L285.6,931.3 L283.0,931.3 L282.6,934.9 L280.0,934.9 L278.0,936.0 L276.0,934.2 L274.0,933.7 L272.0,934.9 L270.5,936.1 L267.9,935.8 L265.9,936.9 L263.7,937.4 L262.0,939.0 L259.9,939.6 L257.7,939.4 L255.8,940.8 L253.8,941.5 L251.4,940.3 L249.8,942.9 L247.3,942.0 L245.6,943.8 L243.1,943.8 L242.0,946.5 L238.9,945.2 L237.7,947.9 L236.2,949.9 L233.9,950.6 L231.7,951.5 L230.3,953.8 L227.6,954.0 L225.6,955.2 L223.2,955.8 L221.7,957.9 L219.9,959.4 L217.3,960.8 L215.5,958.7 L213.5,957.5 L211.0,958.0 L208.0,957.4 L209.9,955.3 L208.9,952.9 L208.5,950.6 L208.5,948.3 L210.6,946.2 L210.8,943.4 L209.1,941.1 L207.6,938.9 L205.5,940.2 L204.3,942.5 L201.0,942.4 L200.3,945.3 L198.1,946.2 L196.0,947.2 L194.4,948.7 L193.4,950.9 L192.1,952.8 L189.9,953.7 L189.2,956.6 L185.9,957.3 L185.4,959.8 L185.4,962.5 L188.1,963.4 L189.1,965.4 L190.5,968.0 L188.7,969.2 L187.7,971.2 L186.6,973.1 L183.5,973.0 L182.8,975.6 L181.1,976.7 L179.2,977.7 L177.2,978.3 L175.5,979.5 L173.4,980.0 L171.5,981.0 L170.2,982.8 L167.6,982.7 L166.0,984.1 L165.8,987.3 L162.7,986.7 L160.9,987.8 L159.5,989.3 L158.8,992.4 L155.6,992.3 L154.1,994.3 L153.3,997.4 L151.4,998.7 L148.0,997.6 L146.6,999.6 L145.4,1001.8 L143.6,1003.5 L141.6,1004.6 L139.4,1005.7 L136.6,1005.5 L135.2,1007.9 L133.4,1009.5 L130.3,1008.5 L128.4,1009.9 L127.1,1012.6 L124.1,1011.7 L122.4,1013.5 L120.0,1014.1 L118.1,1015.4 L115.7,1015.8 L113.8,1017.2 L111.6,1018.1 L110.3,1020.8 L107.7,1020.3 L105.8,1021.6 L103.5,1021.8 L101.7,1023.5 L99.2,1023.1 L97.4,1024.8 L95.7,1026.5 L93.6,1027.4 L91.7,1028.5 L89.2,1028.4 L87.6,1030.4 L85.0,1030.1 L83.4,1032.0 L80.8,1032.1 L78.8,1033.1 L76.6,1034.0 L74.1,1034.2 L72.8,1037.6 L70.2,1035.6 L68.4,1037.2 L66.2,1037.3 L64.1,1037.4 L61.9,1037.4 L60.1,1039.2 L58.0,1039.4 L55.6,1038.2 L54.0,1041.3 L51.6,1040.0 L49.5,1040.4 L48.1,1042.5 L45.4,1041.9 L43.3,1042.7 L40.9,1043.0 L39.7,1045.7 L37.4,1044.8 L35.4,1046.4 L33.3,1046.7 L31.1,1045.7 L29.3,1048.5 L27.0,1046.6 L24.9,1047.1 L23.2,1048.7 L20.6,1048.0 L19.1,1050.1 L17.0,1050.5 L15.0,1051.2" fill="none" stroke="#4d4d4d" stroke-width="2.0" stroke-linejoin="round" stroke-linecap="round"/>
<path d="M173.9,998.9 L176.1,997.9 L176.7,995.1 L178.9,994.1 L180.6,992.5 L182.6,991.3 L184.7,990.8 L185.5,988.2 L188.1,988.3 L189.0,986.0 L190.8,985.0 L192.0,983.3 L194.2,982.3 L196.8,981.9 L197.8,979.7 L199.7,978.6 L200.5,976.1 L202.8,974.5 L204.7,975.7 L206.1,977.7 L207.9,979.1 L209.2,979.7 L210.5,982.5 L207.9,983.8 L206.6,985.6 L206.8,988.0 L207.5,990.2 L206.4,992.6 L206.9,995.2 L205.7,998.2 L202.6,998.1 L201.8,1000.3 L200.2,1001.7 L198.4,1002.9 L196.9,1004.0 L195.3,1006.0 L193.3,1007.2 L191.3,1008.4 L189.2,1009.5 L187.3,1011.0 L185.3,1012.0 L184.2,1014.4 L181.6,1014.5 L180.0,1016.3 L177.8,1015.9 L176.1,1018.2 L172.9,1017.3 L172.9,1015.2 L175.6,1013.7 L176.4,1011.8 L176.2,1009.6 L175.8,1007.6 L176.5,1005.1 L175.8,1002.9 L174.6,1000.9 L173.8,998.8" fill="none" stroke="#4d4d4d" stroke-width="2.0" stroke-linejoin="round" stroke-linecap="round"/>
<path d="M14.8,1047.1 L16.7,1046.2 L18.7,1045.5 L20.5,1044.4 L22.5,1043.7 L24.5,1043.8 L26.6,1044.1 L28.4,1042.1 L30.5,1042.9 L31.9,1041.8 L33.9,1040.3 L36.6,1039.8 L38.2,1037.9 L40.5,1036.8 L41.8,1034.6 L43.1,1032.4 L45.5,1031.4 L47.5,1030.2 L49.5,1030.9 L51.5,1031.0 L53.5,1030.0 L55.5,1029.8 L57.3,1029.2 L59.6,1029.8 L61.4,1028.4 L63.3,1027.8 L65.3,1027.1 L67.0,1026.7 L69.6,1026.6 L70.8,1024.4 L73.6,1024.5 L74.5,1021.8 L77.3,1021.9 L78.3,1019.4 L80.1,1017.9 L82.5,1017.9 L84.5,1017.0 L86.5,1018.0 L88.5,1016.9 L90.5,1016.6 L92.6,1018.0 L94.7,1017.6 L97.0,1017.6 L99.1,1017.0 L100.6,1015.6 L103.0,1014.8 L104.6,1013.4 L105.9,1011.5 L107.9,1010.8 L109.2,1008.6 L111.7,1008.9 L113.3,1007.5 L114.7,1005.3 L116.7,1004.5 L119.1,1005.0 L121.2,1004.6 L122.7,1002.5 L124.8,1002.2 L127.2,1001.3 L128.3,998.8 L131.1,998.3 L132.5,996.2 L133.8,994.0 L136.1,992.9 L138.2,991.7 L139.9,990.0 L140.7,987.6 L140.1,984.9 L141.7,982.8 L142.0,980.4 L143.5,978.6 L144.4,976.6 L145.1,974.4 L146.0,972.4 L147.4,970.5 L148.4,968.4 L148.7,966.1 L148.8,963.7 L146.5,963.9 L144.3,964.0 L142.3,961.9 L139.8,962.1 L137.7,962.9 L136.2,964.8 L133.9,965.3 L131.6,965.6 L130.6,967.3 L129.6,965.3 L128.4,963.3 L128.0,961.0 L127.7,958.0 L125.4,958.6 L123.4,957.6 L121.1,957.3 L118.8,957.6 L116.8,958.6 L114.9,960.4 L112.9,960.7 L110.9,960.0 L109.0,959.4 L107.0,958.9 L105.1,958.2 L102.9,957.5 L100.3,958.7 L98.4,956.6 L96.2,956.1 L94.5,956.5 L94.9,954.1 L95.2,951.7 L97.2,949.9 L98.1,947.6 L98.1,945.5 L98.8,943.4 L97.8,941.2 L97.5,939.1 L98.7,937.1 L99.3,934.7 L97.3,933.4 L97.3,931.0 L96.7,929.0 L95.0,928.0 L93.0,927.3 L91.0,927.1 L88.9,927.6 L86.9,928.1 L84.9,928.0 L82.8,927.0 L80.8,926.9 L78.7,927.5 L77.2,925.3 L77.6,922.3 L76.6,919.7 L74.5,918.7 L73.9,916.6 L73.1,914.5 L71.9,912.9 L70.1,911.6 L68.8,910.0" fill="none" stroke="#4d4d4d" stroke-width="1.5" stroke-linejoin="round" stroke-linecap="round"/>
<path d="M43.8,908.8 L52.5,907.5 L60.0,910.0 L63.0,916.2 L56.2,921.2 L50.0,917.5 L46.2,913.8Z" fill="#A6C3E1" stroke="#4d4d4d" stroke-width="1.5"/>
<path d="M23.8,825.0 L27.5,820.0 L32.5,826.2 L38.8,825.0 L43.8,831.2 L51.2,838.8 L47.5,841.2 L41.2,843.8 L36.2,836.2 L30.0,830.0 L25.0,830.0Z" fill="#E78F4F" stroke="#4d4d4d" stroke-width="1.4"/>
<path d="M23.8,825.0 L27.5,820.0 L32.5,826.2 L33.8,832.5 L30.0,830.0 L25.0,830.0Z" fill="#DD5B36" stroke="#4d4d4d" stroke-width="1"/>
<path d="M14,1197.5 L14,665 L283,665 L494.5,928 L974,928 L974,1197.5 Z M14,1069 L494.5,1069 M494.5,928 L494.5,1197.5" fill="none" stroke="#000" stroke-width="2"/>
<path d="M518.0,961.7 L520.7,963.3 L520.7,971.7 L518.0,972.7Z" fill="#B52F04" stroke="#4d4d4d" stroke-width="2" stroke-linejoin="round"/>
<path d="M539.7,955.0 C539.7,951.3 541.4,946.8 544.7,943.3 C548.0,939.8 551.0,938.5 556.3,937.3 C561.6,936.1 566.8,935.4 571.3,937.3 C575.8,939.2 577.5,942.2 578.7,946.7 C579.9,951.2 579.4,955.9 577.3,960.0 C575.2,964.1 572.5,966.1 568.0,967.3 C563.5,968.5 559.4,967.1 554.7,966.0 C550.0,964.9 547.7,963.9 544.7,961.7 C541.7,959.5 539.7,958.7 539.7,955.0Z" fill="#B52F04" stroke="#4d4d4d" stroke-width="2" stroke-linejoin="round"/>
<path d="M664.7,981.7 C666.4,979.7 673.3,981.2 678.0,978.3 C682.7,975.4 684.7,968.0 688.0,967.3 C691.3,966.6 692.0,971.1 694.7,975.0 C697.4,978.9 698.0,983.4 701.3,986.7 C704.6,990.0 708.0,989.2 711.3,991.7 C714.6,994.2 718.3,997.1 718.0,999.3 C717.7,1001.5 713.7,1002.6 709.7,1002.7 C705.7,1002.8 703.0,999.9 698.0,1000.0 C693.0,1000.1 689.4,1004.3 684.7,1003.3 C680.0,1002.3 677.7,998.0 674.7,995.0 C671.7,992.0 671.7,991.0 669.7,988.3 C667.7,985.6 663.0,983.7 664.7,981.7Z" fill="#B52F04" stroke="#4d4d4d" stroke-width="2" stroke-linejoin="round"/>
<path d="M748.0,1003.3 C752.7,1000.9 762.0,1001.0 771.3,1000.7 C780.6,1000.4 791.0,1000.2 794.7,1001.7 C798.4,1003.2 793.7,1006.5 789.7,1008.3 C785.7,1010.1 781.0,1009.7 774.7,1010.7 C768.4,1011.7 763.3,1012.9 758.0,1013.3 C752.7,1013.7 750.0,1014.7 748.0,1012.7 C746.0,1010.7 743.3,1005.7 748.0,1003.3Z" fill="#B52F04" stroke="#4d4d4d" stroke-width="2" stroke-linejoin="round"/>
<path d="M769.7,1028.3 C770.4,1026.1 774.3,1024.3 778.0,1024.0 C781.7,1023.7 785.3,1024.8 788.0,1026.7 C790.7,1028.6 792.3,1030.8 791.3,1033.3 C790.3,1035.8 786.3,1039.0 783.0,1039.3 C779.7,1039.6 777.4,1037.2 774.7,1035.0 C772.0,1032.8 769.0,1030.5 769.7,1028.3Z" fill="#B52F04" stroke="#4d4d4d" stroke-width="2" stroke-linejoin="round"/>
<path d="M799.7,1016.7 C800.8,1014.2 803.3,1011.4 806.3,1011.7 C809.3,1012.0 812.4,1016.3 814.7,1018.3 C817.0,1020.3 814.7,1022.2 818.0,1021.7 C821.3,1021.2 825.3,1016.0 831.3,1016.0 C837.3,1016.0 842.7,1019.2 848.0,1021.7 C853.3,1024.2 856.7,1025.3 858.0,1028.3 C859.3,1031.3 858.0,1033.7 854.7,1036.7 C851.4,1039.7 846.6,1041.2 841.3,1043.3 C836.0,1045.4 832.0,1048.0 828.0,1047.3 C824.0,1046.6 823.3,1043.1 821.3,1040.0 C819.3,1036.9 820.7,1033.7 818.0,1031.7 C815.3,1029.7 811.5,1031.5 808.0,1030.0 C804.5,1028.5 802.4,1026.7 800.7,1024.0 C799.0,1021.3 798.6,1019.2 799.7,1016.7Z" fill="#B52F04" stroke="#4d4d4d" stroke-width="2" stroke-linejoin="round"/>
<path d="M802.0,1055.0 L811.3,1047.3 L816.3,1050.0 L811.3,1056.0 L804.7,1057.3Z" fill="#B52F04" stroke="#4d4d4d" stroke-width="2" stroke-linejoin="round"/>
<path d="M869.7,1071.7 C871.7,1070.2 874.7,1068.3 879.7,1069.3 C884.7,1070.3 887.7,1074.6 894.7,1076.7 C901.7,1078.8 907.4,1078.0 914.7,1080.0 C922.0,1082.0 926.1,1083.7 931.3,1086.7 C936.5,1089.7 938.7,1091.3 940.7,1095.0 C942.7,1098.7 939.5,1103.0 941.3,1105.0 C943.1,1107.0 946.7,1103.0 949.7,1105.0 C952.7,1107.0 953.2,1111.9 956.3,1115.0 C959.4,1118.1 964.3,1118.0 965.3,1120.7 C966.3,1123.4 965.4,1123.8 961.3,1128.3 C957.2,1132.8 951.4,1138.3 944.7,1143.3 C938.0,1148.3 934.0,1149.3 928.0,1153.3 C922.0,1157.3 918.7,1158.6 914.7,1163.3 C910.7,1168.0 911.0,1173.4 908.0,1176.7 C905.0,1180.0 903.7,1180.7 899.7,1180.0 C895.7,1179.3 891.8,1176.3 888.0,1173.3 C884.2,1170.3 882.0,1170.3 880.7,1165.0 C879.4,1159.7 882.5,1153.0 881.3,1146.7 C880.1,1140.4 878.4,1139.6 874.7,1133.3 C871.0,1127.0 864.3,1121.0 863.0,1115.0 C861.7,1109.0 865.3,1107.6 868.0,1103.3 C870.7,1099.0 875.0,1097.3 876.3,1093.3 C877.6,1089.3 876.0,1086.6 874.7,1083.3 C873.4,1080.0 870.7,1079.0 869.7,1076.7 C868.7,1074.4 867.7,1073.2 869.7,1071.7Z" fill="#B52F04" stroke="#4d4d4d" stroke-width="2" stroke-linejoin="round"/>
<path d="M880.7,1010 L880.7,1069" stroke="#000" stroke-width="1.4"/>
<text transform="translate(922,1017) scale(0.9346,1)" font-size="20.33" font-weight="bold" text-anchor="middle" fill="#000">Above</text>
<path d="M22.6,1082.2 L28.9,1080.6 L35.2,1083.8 L41.6,1088.5 L40.9,1092.6 L33.7,1091.7 L27.4,1087.6Z" fill="#B52F04" stroke="#4d4d4d" stroke-width="1.4" stroke-linejoin="round"/>
<ellipse cx="40.9" cy="1106.5" rx="4.4" ry="2.5" fill="#8a5a48" stroke="#4d4d4d" stroke-width="1.3" transform="rotate(10 40.9 1106.5)"/>
<ellipse cx="52.0" cy="1098.6" rx="3.2" ry="1.3" fill="#4d4d4d" stroke="#4d4d4d" stroke-width="1.3" transform="rotate(30 52.0 1098.6)"/>
<ellipse cx="86.4" cy="1122.9" rx="1.6" ry="1.3" fill="#4d4d4d" stroke="#4d4d4d" stroke-width="1.3" transform="rotate(0 86.4 1122.9)"/>
<ellipse cx="114.8" cy="1144.4" rx="6.3" ry="2.8" fill="#4d4d4d" stroke="#4d4d4d" stroke-width="1.3" transform="rotate(-25 114.8 1144.4)"/>
<ellipse cx="131.5" cy="1147.5" rx="2.5" ry="1.6" fill="#4d4d4d" stroke="#4d4d4d" stroke-width="1.3" transform="rotate(20 131.5 1147.5)"/>
<ellipse cx="133.7" cy="1152.6" rx="2.5" ry="1.6" fill="#4d4d4d" stroke="#4d4d4d" stroke-width="1.3" transform="rotate(20 133.7 1152.6)"/>
<ellipse cx="144.1" cy="1168.3" rx="8.8" ry="2.2" fill="#4d4d4d" stroke="#4d4d4d" stroke-width="1.3" transform="rotate(50 144.1 1168.3)"/>
<ellipse cx="159.6" cy="1156.0" rx="3.2" ry="2.8" fill="#CD3D20" stroke="#4d4d4d" stroke-width="1.3" transform="rotate(0 159.6 1156.0)"/>
<ellipse cx="191.4" cy="1168.3" rx="1.9" ry="1.9" fill="#4d4d4d" stroke="#4d4d4d" stroke-width="1.3" transform="rotate(0 191.4 1168.3)"/>
<ellipse cx="182.0" cy="1184.1" rx="3.2" ry="1.3" fill="#4d4d4d" stroke="#4d4d4d" stroke-width="1.3" transform="rotate(-40 182.0 1184.1)"/>
<ellipse cx="193.0" cy="1175.9" rx="1.9" ry="0.9" fill="#4d4d4d" stroke="#4d4d4d" stroke-width="1.3" transform="rotate(0 193.0 1175.9)"/>
<ellipse cx="199.3" cy="1180.0" rx="1.3" ry="0.9" fill="#4d4d4d" stroke="#4d4d4d" stroke-width="1.3" transform="rotate(0 199.3 1180.0)"/>
<ellipse cx="208.2" cy="1170.6" rx="3.8" ry="2.8" fill="#DD5B36" stroke="#4d4d4d" stroke-width="1.3" transform="rotate(30 208.2 1170.6)"/>
<ellipse cx="218.3" cy="1174.7" rx="6.9" ry="1.9" fill="#E78F4F" stroke="#4d4d4d" stroke-width="1.3" transform="rotate(10 218.3 1174.7)"/>
<ellipse cx="227.7" cy="1171.5" rx="2.5" ry="2.2" fill="#E78F4F" stroke="#4d4d4d" stroke-width="1.3" transform="rotate(0 227.7 1171.5)"/>
<ellipse cx="238.8" cy="1176.9" rx="8.8" ry="2.5" fill="#E78F4F" stroke="#4d4d4d" stroke-width="1.3" transform="rotate(-10 238.8 1176.9)"/>
<ellipse cx="249.8" cy="1170.6" rx="2.8" ry="2.5" fill="#E78F4F" stroke="#4d4d4d" stroke-width="1.3" transform="rotate(0 249.8 1170.6)"/>
<ellipse cx="259.3" cy="1173.7" rx="4.4" ry="1.6" fill="#E78F4F" stroke="#4d4d4d" stroke-width="1.3" transform="rotate(-5 259.3 1173.7)"/>
<ellipse cx="278.2" cy="1172.1" rx="10.1" ry="1.6" fill="#4d4d4d" stroke="#4d4d4d" stroke-width="1.3" transform="rotate(-5 278.2 1172.1)"/>
<ellipse cx="290.8" cy="1167.7" rx="3.5" ry="3.2" fill="#E8B56D" stroke="#4d4d4d" stroke-width="1.3" transform="rotate(0 290.8 1167.7)"/>
<ellipse cx="301.9" cy="1175.3" rx="12.6" ry="1.4" fill="#E78F4F" stroke="#4d4d4d" stroke-width="1.3" transform="rotate(8 301.9 1175.3)"/>
<ellipse cx="262.4" cy="1168.3" rx="0.8" ry="0.8" fill="#4d4d4d" stroke="#4d4d4d" stroke-width="1.3" transform="rotate(0 262.4 1168.3)"/>
<ellipse cx="271.3" cy="1167.1" rx="0.8" ry="0.8" fill="#4d4d4d" stroke="#4d4d4d" stroke-width="1.3" transform="rotate(0 271.3 1167.1)"/>
<ellipse cx="327.5" cy="1170.9" rx="3.5" ry="2.2" fill="#fdfefd" stroke="#4d4d4d" stroke-width="1.3" transform="rotate(-15 327.5 1170.9)"/>
<ellipse cx="354.0" cy="1166.8" rx="2.2" ry="1.6" fill="#4d4d4d" stroke="#4d4d4d" stroke-width="1.3" transform="rotate(-30 354.0 1166.8)"/>
<ellipse cx="365.0" cy="1163.3" rx="3.5" ry="2.2" fill="#fdfefd" stroke="#4d4d4d" stroke-width="1.3" transform="rotate(-25 365.0 1163.3)"/>
<ellipse cx="378.6" cy="1159.5" rx="2.5" ry="2.2" fill="#4d4d4d" stroke="#4d4d4d" stroke-width="1.3" transform="rotate(0 378.6 1159.5)"/>
<ellipse cx="385.5" cy="1153.2" rx="1.9" ry="3.2" fill="#4d4d4d" stroke="#4d4d4d" stroke-width="1.3" transform="rotate(0 385.5 1153.2)"/>
<ellipse cx="401.3" cy="1157.9" rx="5.0" ry="1.3" fill="#4d4d4d" stroke="#4d4d4d" stroke-width="1.3" transform="rotate(-35 401.3 1157.9)"/>
<ellipse cx="410.1" cy="1150.0" rx="6.3" ry="3.2" fill="#C4CDE9" stroke="#4d4d4d" stroke-width="1.3" transform="rotate(-35 410.1 1150.0)"/>
<ellipse cx="420.2" cy="1139.3" rx="6.0" ry="4.1" fill="#C4CDE9" stroke="#4d4d4d" stroke-width="1.3" transform="rotate(-20 420.2 1139.3)"/>
<ellipse cx="434.4" cy="1142.5" rx="6.9" ry="1.6" fill="#4d4d4d" stroke="#4d4d4d" stroke-width="1.3" transform="rotate(-20 434.4 1142.5)"/>
<ellipse cx="447.0" cy="1125.4" rx="5.7" ry="4.1" fill="#A6C3E1" stroke="#4d4d4d" stroke-width="1.3" transform="rotate(-10 447.0 1125.4)"/>
<ellipse cx="453.4" cy="1133.0" rx="9.5" ry="2.5" fill="#C4CDE9" stroke="#4d4d4d" stroke-width="1.3" transform="rotate(-30 453.4 1133.0)"/>
<ellipse cx="466.0" cy="1116.0" rx="3.8" ry="2.8" fill="#A6C3E1" stroke="#4d4d4d" stroke-width="1.3" transform="rotate(0 466.0 1116.0)"/>
<ellipse cx="473.9" cy="1112.2" rx="1.9" ry="1.6" fill="#4d4d4d" stroke="#4d4d4d" stroke-width="1.3" transform="rotate(0 473.9 1112.2)"/>
<ellipse cx="481.8" cy="1117.2" rx="7.6" ry="1.6" fill="#4d4d4d" stroke="#4d4d4d" stroke-width="1.3" transform="rotate(-15 481.8 1117.2)"/>
<ellipse cx="422.7" cy="1122.3" rx="0.6" ry="0.6" fill="#4d4d4d" stroke="#4d4d4d" stroke-width="1.3" transform="rotate(0 422.7 1122.3)"/>
<path d="M486.7,1096.7 L491.7,1090.0 L494.0,1090.0 L494.0,1106.7 L488.3,1105.0Z" fill="#7AB4E4" stroke="#4d4d4d" stroke-width="1.2"/>
<path d="M41,1092.5 L77.5,1093 M397.3,1093.3 L443.3,1122.7 M333.7,1139.5 L382.5,1157.5" stroke="#000" stroke-width="1.4" fill="none"/>
<text transform="translate(90,1100) scale(0.9346,1)" font-size="20.33" font-weight="bold" text-anchor="start" fill="#000">Above</text>
<text transform="translate(188.7,1090.5) scale(0.9346,1)" font-size="16.48" font-weight="bold" text-anchor="start" fill="#000">Aleutian Islands</text>
<text transform="translate(330,1100) scale(0.9346,1)" font-size="20.33" font-weight="bold" text-anchor="start" fill="#000">Below</text>
<text transform="translate(322.5,1134.5) scale(0.9346,1)" font-size="20.33" font-weight="bold" text-anchor="end" fill="#000">Near</text>
<text transform="translate(322.5,1157) scale(0.9346,1)" font-size="20.33" font-weight="bold" text-anchor="end" fill="#000">Normal</text>
<text transform="translate(158.3,390) scale(0.9346,1)" font-size="29.32" font-weight="bold" text-anchor="middle" fill="#000" stroke="#fff" stroke-width="4" stroke-linejoin="round" paint-order="stroke">Near</text>
<text transform="translate(158.3,421.7) scale(0.9346,1)" font-size="29.32" font-weight="bold" text-anchor="middle" fill="#000" stroke="#fff" stroke-width="4" stroke-linejoin="round" paint-order="stroke">Normal</text>
<text transform="translate(757.8,596.5) scale(0.9346,1)" font-size="29.32" font-weight="bold" text-anchor="middle" fill="#000" stroke="#fff" stroke-width="4" stroke-linejoin="round" paint-order="stroke">Above</text>
<text transform="translate(1372,240) scale(0.9346,1)" font-size="29.32" font-weight="bold" text-anchor="middle" fill="#000" stroke="#fff" stroke-width="4" stroke-linejoin="round" paint-order="stroke">Below</text>
<text transform="translate(1262,331.7) scale(0.9346,1)" font-size="29.32" font-weight="bold" text-anchor="middle" fill="#000" stroke="#fff" stroke-width="4" stroke-linejoin="round" paint-order="stroke">Near</text>
<text transform="translate(1262,363.3) scale(0.9346,1)" font-size="29.32" font-weight="bold" text-anchor="middle" fill="#000" stroke="#fff" stroke-width="4" stroke-linejoin="round" paint-order="stroke">Normal</text>
<text transform="translate(241,933.7) scale(0.9346,1)" font-size="29.32" font-weight="bold" text-anchor="middle" fill="#000" stroke="#fff" stroke-width="4" stroke-linejoin="round" paint-order="stroke">Below</text>
<text transform="translate(777.3,64) scale(0.944,1)" font-size="75" text-anchor="middle" fill="#000">6-10 Day Temperature Outlook</text>
<text y="108.6" font-size="31" class="dv" fill="#000"><tspan x="593.9" font-weight="bold" textLength="86.6" lengthAdjust="spacingAndGlyphs">Valid:</tspan><tspan x="703.6" textLength="335.4" lengthAdjust="spacingAndGlyphs">December 27 - 31, 2025</tspan></text>
<text y="146.4" font-size="31" class="dv" fill="#000"><tspan x="593.9" font-weight="bold" textLength="114.4" lengthAdjust="spacingAndGlyphs">Issued:</tspan><tspan x="731.5" textLength="268.9" lengthAdjust="spacingAndGlyphs">December 21, 2025</tspan></text>
<text transform="translate(1263.7,955) scale(0.9346,1)" font-size="24.61" font-weight="bold" text-anchor="middle" fill="#000">Probability</text>
<text transform="translate(1263.7,981.7) scale(0.9346,1)" font-size="24.61" font-weight="bold" text-anchor="middle" fill="#000">(Percent Chance)</text>
<text transform="translate(1094,1012) scale(0.9346,1)" font-size="20.33" font-weight="bold" text-anchor="start" fill="#000">Above Normal</text>
<text transform="translate(1305,1012) scale(0.9346,1)" font-size="20.33" font-weight="bold" text-anchor="start" fill="#000">Below Normal</text>
<rect x="1093.3" y="1021.7" width="38.7" height="19" fill="#E8B56D" stroke="#b9a9a0" stroke-width="0.6"/>
<rect x="1392.7" y="1021.7" width="38.7" height="19" fill="#C4CDE9" stroke="#a9a9b9" stroke-width="0.6"/>
<text x="1138" y="1037.4" font-size="16.4" class="dv" fill="#000">33-40%</text>
<text x="1386" y="1037.4" font-size="16.4" class="dv" text-anchor="end" fill="#000">33-40%</text>
<rect x="1093.3" y="1046.3" width="38.7" height="19" fill="#E78F4F" stroke="#b9a9a0" stroke-width="0.6"/>
<rect x="1392.7" y="1046.3" width="38.7" height="19" fill="#A6C3E1" stroke="#a9a9b9" stroke-width="0.6"/>
<text x="1138" y="1062.0" font-size="16.4" class="dv" fill="#000">40-50%</text>
<text x="1386" y="1062.0" font-size="16.4" class="dv" text-anchor="end" fill="#000">40-50%</text>
<rect x="1093.3" y="1070.8" width="38.7" height="19" fill="#DD5B36" stroke="#b9a9a0" stroke-width="0.6"/>
<rect x="1392.7" y="1070.8" width="38.7" height="19" fill="#7AB4E4" stroke="#a9a9b9" stroke-width="0.6"/>
<text x="1138" y="1086.5" font-size="16.4" class="dv" fill="#000">50-60%</text>
<text x="1386" y="1086.5" font-size="16.4" class="dv" text-anchor="end" fill="#000">50-60%</text>
<rect x="1093.3" y="1095.4" width="38.7" height="19" fill="#CD3D20" stroke="#b9a9a0" stroke-width="0.6"/>
<rect x="1392.7" y="1095.4" width="38.7" height="19" fill="#3A9FDD" stroke="#a9a9b9" stroke-width="0.6"/>
<text x="1138" y="1111.1" font-size="16.4" class="dv" fill="#000">60-70%</text>
<text x="1386" y="1111.1" font-size="16.4" class="dv" text-anchor="end" fill="#000">60-70%</text>
<rect x="1093.3" y="1119.9" width="38.7" height="19" fill="#B52F04" stroke="#b9a9a0" stroke-width="0.6"/>
<rect x="1392.7" y="1119.9" width="38.7" height="19" fill="#0B5FA5" stroke="#a9a9b9" stroke-width="0.6"/>
<text x="1138" y="1135.6" font-size="16.4" class="dv" fill="#000">70-80%</text>
<text x="1386" y="1135.6" font-size="16.4" class="dv" text-anchor="end" fill="#000">70-80%</text>
<rect x="1093.3" y="1144.5" width="38.7" height="19" fill="#932A08" stroke="#b9a9a0" stroke-width="0.6"/>
<rect x="1392.7" y="1144.5" width="38.7" height="19" fill="#2D2070" stroke="#a9a9b9" stroke-width="0.6"/>
<text x="1138" y="1160.2" font-size="16.4" class="dv" fill="#000">80-90%</text>
<text x="1386" y="1160.2" font-size="16.4" class="dv" text-anchor="end" fill="#000">80-90%</text>
<rect x="1093.3" y="1169.1" width="38.7" height="19" fill="#6F2108" stroke="#b9a9a0" stroke-width="0.6"/>
<rect x="1392.7" y="1169.1" width="38.7" height="19" fill="#211B50" stroke="#a9a9b9" stroke-width="0.6"/>
<text x="1138" y="1184.8" font-size="16.4" class="dv" fill="#000">90-100%</text>
<text x="1386" y="1184.8" font-size="16.4" class="dv" text-anchor="end" fill="#000">90-100%</text>
<text transform="translate(1263.7,1043.4) scale(0.9346,1)" font-size="20.33" font-weight="bold" text-anchor="middle" fill="#000">Near</text>
<text transform="translate(1263.7,1064.8) scale(0.9346,1)" font-size="20.33" font-weight="bold" text-anchor="middle" fill="#000">Normal</text>
<rect x="1244" y="1075" width="38.7" height="19" fill="#A1A1A1"/>
<text x="1028.5" y="1037.4" font-size="16.4" class="dv" text-anchor="middle" fill="#000">Leaning</text>
<text x="1028.5" y="1057.7" font-size="16.4" class="dv" text-anchor="middle" fill="#000">Above</text>
<text x="1028.5" y="1126.4" font-size="16.4" class="dv" text-anchor="middle" fill="#000">Likely</text>
<text x="1028.5" y="1146.7" font-size="16.4" class="dv" text-anchor="middle" fill="#000">Above</text>
<text x="1497.7" y="1037.4" font-size="16.4" class="dv" text-anchor="middle" fill="#000">Leaning</text>
<text x="1497.7" y="1057.7" font-size="16.4" class="dv" text-anchor="middle" fill="#000">Below</text>
<text x="1497.7" y="1126.4" font-size="16.4" class="dv" text-anchor="middle" fill="#000">Likely</text>
<text x="1497.7" y="1146.7" font-size="16.4" class="dv" text-anchor="middle" fill="#000">Below</text>
<path d="M1091,1021 C1079,1021 1079,1022 1079,1028.5 L1079,1036.75 C1079,1042.25 1070.0,1043.25 1061,1043.25 C1070.0,1043.25 1079,1044.25 1079,1049.75 L1079,1058.0 C1079,1064.5 1079,1065.5 1091,1065.5" fill="none" stroke="#111" stroke-width="1.1"/>
<path d="M1091,1070.5 C1079,1070.5 1079,1071.5 1079,1078.0 L1079,1122.75 C1079,1128.25 1070.0,1129.25 1061,1129.25 C1070.0,1129.25 1079,1130.25 1079,1135.75 L1079,1180.5 C1079,1187 1079,1188 1091,1188" fill="none" stroke="#111" stroke-width="1.1"/>
<path d="M1436,1021 C1447,1021 1447,1022 1447,1028.5 L1447,1036.75 C1447,1042.25 1455.85,1043.25 1464.7,1043.25 C1455.85,1043.25 1447,1044.25 1447,1049.75 L1447,1058.0 C1447,1064.5 1447,1065.5 1436,1065.5" fill="none" stroke="#111" stroke-width="1.1"/>
<path d="M1436,1070.5 C1447,1070.5 1447,1071.5 1447,1078.0 L1447,1122.75 C1447,1128.25 1455.85,1129.25 1464.7,1129.25 C1455.85,1129.25 1447,1130.25 1447,1135.75 L1447,1180.5 C1447,1187 1447,1188 1436,1188" fill="none" stroke="#111" stroke-width="1.1"/>
<defs><clipPath id="noaac"><circle cx="1482.4" cy="56.3" r="42.4"/></clipPath></defs>
<circle cx="1482.4" cy="56.3" r="42.4" fill="#fff"/>
<g clip-path="url(#noaac)">
<path d="M1447.8,31.0 C1448.6,31.8 1450.9,33.9 1452.4,35.7 C1454.0,37.4 1455.3,39.0 1457.1,41.3 C1458.9,43.7 1461.2,47.0 1463.3,49.6 C1465.4,52.2 1467.4,54.8 1469.5,56.8 C1471.6,58.9 1473.8,60.8 1475.7,62.0 C1477.6,63.3 1479.5,63.9 1480.9,64.3 C1482.2,64.7 1482.8,64.8 1484.0,64.6 C1485.2,64.4 1486.7,64.1 1488.1,63.0 C1489.5,62.0 1490.8,60.3 1492.2,58.4 C1493.6,56.5 1495.0,54.0 1496.4,51.7 C1497.7,49.4 1499.1,46.6 1500.5,44.4 C1501.9,42.3 1503.1,40.5 1504.6,38.8 C1506.2,37.0 1507.9,35.5 1509.8,34.1 C1511.7,32.7 1515.0,31.1 1516.0,30.5 L1527.4,10.3 L1482.4,0.0 L1437.4,10.3Z" fill="#00308a"/>
<path d="M1440.8,45.0 C1441.2,44.9 1442.7,44.3 1443.6,44.7 C1444.5,45.0 1445.7,46.0 1446.7,47.0 C1447.8,48.1 1449.5,50.1 1450.9,51.7 C1452.3,53.2 1454.3,55.7 1456.0,57.4 C1457.8,59.0 1460.2,61.2 1462.3,62.5 C1464.3,63.9 1467.5,65.4 1469.5,66.1 C1471.5,66.9 1474.1,67.5 1475.7,67.7 C1477.3,67.9 1480.3,67.3 1480.3,67.7 C1480.3,68.1 1477.4,69.3 1475.7,70.1 C1474.0,70.9 1469.4,72.3 1469.0,72.9 C1468.5,73.5 1471.3,74.0 1472.6,74.1 C1473.9,74.2 1476.2,74.0 1477.8,73.6 C1479.3,73.2 1481.4,72.2 1482.9,71.5 C1484.5,70.8 1486.4,69.8 1488.1,69.0 C1489.8,68.3 1492.4,67.2 1494.3,66.7 C1496.2,66.1 1500.4,65.7 1501.0,65.3 C1501.6,65.0 1499.5,64.5 1498.4,64.3 C1497.3,64.1 1494.9,64.1 1493.8,64.1 C1492.7,64.1 1490.8,64.8 1491.2,64.3 C1491.6,63.8 1494.7,62.3 1496.4,61.0 C1498.1,59.7 1500.7,57.5 1502.6,55.8 C1504.4,54.1 1506.9,51.5 1508.8,49.6 C1510.6,47.8 1513.2,45.2 1515.0,43.4 C1516.7,41.6 1519.5,38.6 1520.3,37.7 L1537.7,31.0 L1537.7,113.7 L1424.0,113.7 L1424.0,41.3Z" fill="#0085ca"/>
</g>
<text x="1482.1" y="41.9" font-size="16.4" font-weight="bold" fill="#fff" stroke="#fff" stroke-width="0.5" text-anchor="middle" textLength="34.2" lengthAdjust="spacingAndGlyphs">NOAA</text>
<circle cx="70.8" cy="55.8" r="40.4" fill="#1e9bd7" stroke="#2a5f8a" stroke-width="0.7"/>
<circle cx="70.8" cy="55.8" r="31" fill="#fff" stroke="#2a6f9a" stroke-width="0.5"/>
<defs><path id="sealt" d="M37.599999999999994,55.8 A33.2,33.2 0 0 1 104.0,55.8"/><path id="sealb" d="M32.199999999999996,55.8 A38.6,38.6 0 0 0 109.4,55.8"/></defs>
<text font-size="6.6" font-weight="bold" fill="#fff" text-anchor="middle"><textPath href="#sealt" startOffset="50%" textLength="90" lengthAdjust="spacingAndGlyphs">DEPARTMENT OF COMMERCE</textPath></text>
<text font-size="6.6" font-weight="bold" fill="#fff" text-anchor="middle"><textPath href="#sealb" startOffset="50%" textLength="104" lengthAdjust="spacingAndGlyphs">UNITED STATES OF AMERICA</textPath></text>
<text x="35.0" y="58.0" font-size="5" fill="#fff" text-anchor="middle">★</text><text x="106.6" y="58.0" font-size="5" fill="#fff" text-anchor="middle">★</text>
<defs><clipPath id="shc"><path d="M53.4,49.8 L88.2,49.8 L86.6,52 L86.6,72 Q86.4,78 70.8,84.8 Q55.2,78 55,72 L55,52 Z"/></clipPath></defs>
<g clip-path="url(#shc)"><rect x="50" y="45" width="42" height="21.2" fill="#1e9bd7"/><rect x="50" y="66.2" width="42" height="20" fill="#e2b417"/>
<path d="M60,60.5 L66,53.5 L69.5,52 L69.5,60.8Z M70.2,51.5 L74,52.5 L75,61.2 L70.2,61Z M75.8,53 L79,54 L80.8,61.5 L76.5,61.3Z" fill="#f4f4f4" stroke="#555" stroke-width="0.3"/>
<path d="M58,61 L82,62.2 L79,64.3 L64,63.8Z" fill="#3a3a3a"/>
<path d="M69.8,66.2 L71.8,66.2 L72.3,80 L69.3,80Z" fill="#ddd" stroke="#555" stroke-width="0.3"/><path d="M66.5,80 L75,80 L74,82.5 L67.5,82.5Z" fill="#999" stroke="#555" stroke-width="0.3"/>
<path d="M69.5,67.5 L60,74 M72,67.5 L82,74" stroke="#f3dc7a" stroke-width="1.6" opacity="0.7"/>
</g>
<path d="M53.4,49.8 L88.2,49.8 L86.6,52 L86.6,72 Q86.4,78 70.8,84.8 Q55.2,78 55,72 L55,52 Z" fill="none" stroke="#3d4a55" stroke-width="0.8"/>
<path d="M60,29.6 Q63,31.5 66.2,35.2 Q67.6,36.8 68.4,36.4 Q69,34.3 70.8,34.2 Q72.6,34.3 73.2,36.4 Q74,36.8 75.4,35.2 Q78.6,31.5 81.8,29.6 Q81.6,35.5 78.6,39.5 Q77,41.8 75.2,43 Q75.4,45 76,46.2 L65.6,46.2 Q66.2,45 66.4,43 Q64.6,41.8 63,39.5 Q60.2,35.5 60,29.6Z" fill="#b08a18" stroke="#6f560f" stroke-width="0.4"/>
<path d="M67.2,38 Q70.8,36.2 74.4,38 Q75.4,42 73.6,45.6 L68,45.6 Q66.2,42 67.2,38Z" fill="#9c7a14"/>
<path d="M62,32.5 L66.5,38 M63.5,36 L67,40 M79.6,32.5 L75.1,38 M78.1,36 L74.6,40" stroke="#7a5f12" stroke-width="0.5" fill="none"/>
<ellipse cx="70.8" cy="36.2" rx="1.8" ry="1.7" fill="#f4f4f4"/>
<rect x="64.3" y="46.2" width="13.2" height="1.7" fill="#444"/>
</svg>
</body></html>
